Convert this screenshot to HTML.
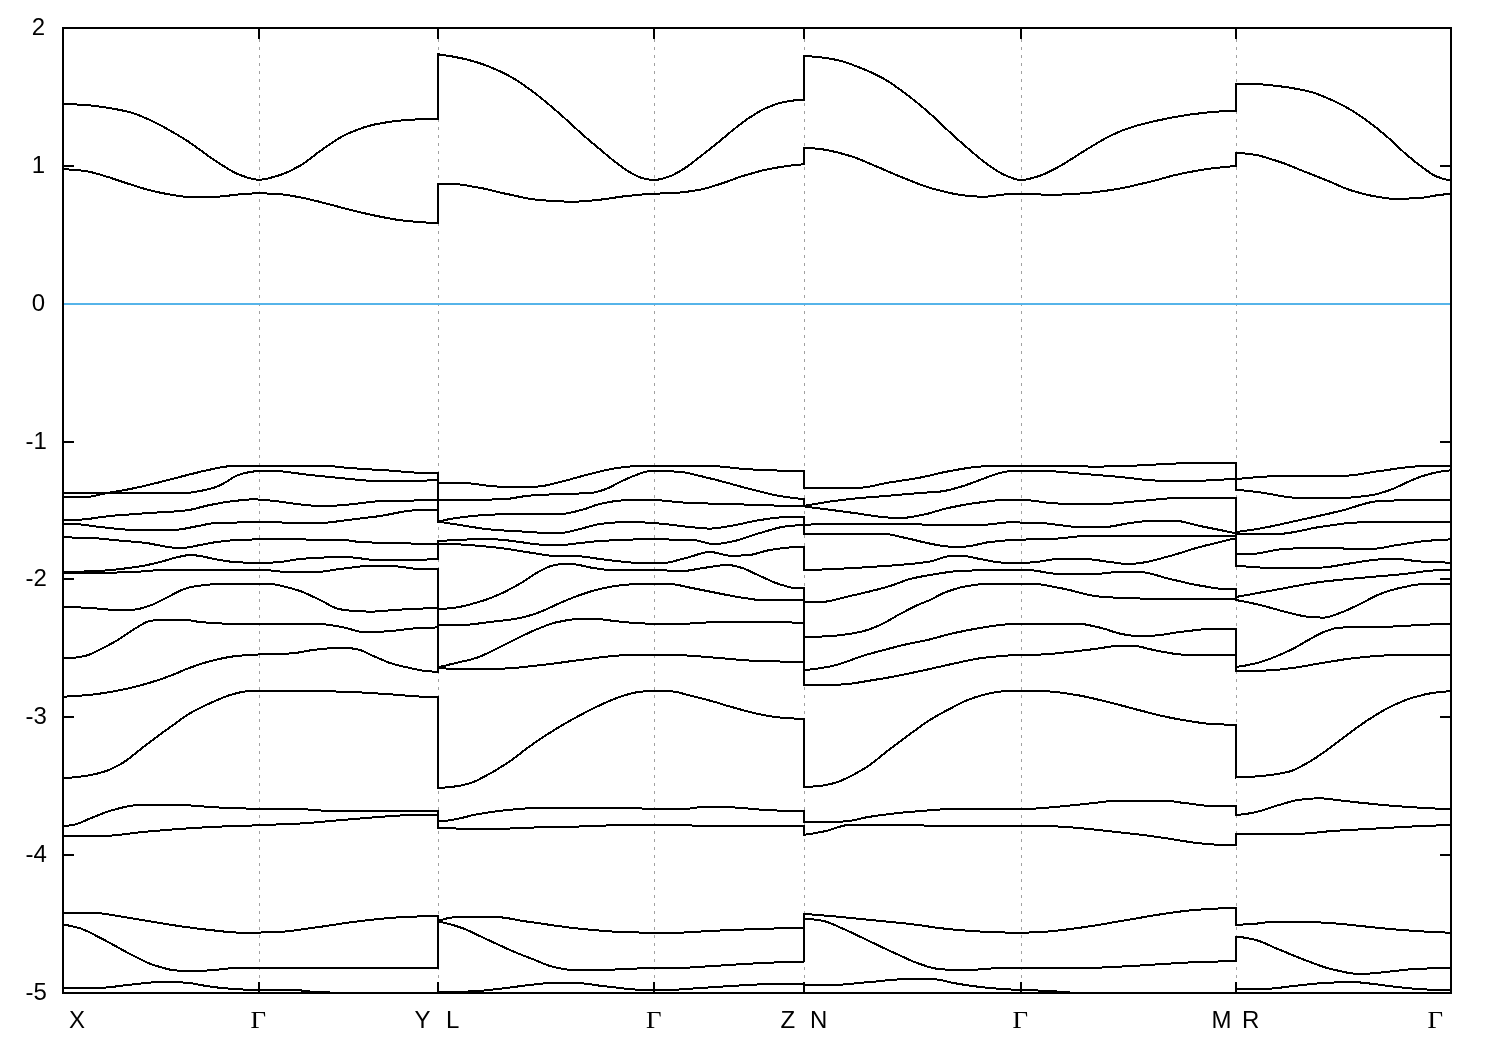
<!DOCTYPE html>
<html>
<head>
<meta charset="utf-8">
<title>Band structure</title>
<style>
html,body{margin:0;padding:0;background:#fff;}
body{width:1500px;height:1050px;overflow:hidden;}
svg{display:block;will-change:transform;}
text{font-family:"Liberation Sans",sans-serif;font-size:24px;fill:#000;}
text.s{font-family:"Liberation Serif",serif;font-size:24.5px;text-rendering:geometricPrecision;}
</style>
</head>
<body>
<svg width="1500" height="1050" viewBox="0 0 1500 1050">
<rect x="0" y="0" width="1500" height="1050" fill="#fff"/>
<defs><clipPath id="c"><rect x="62" y="27" width="1390" height="967"/></clipPath></defs>
<g stroke="#a0a0a0" stroke-width="1" stroke-dasharray="3 5" fill="none" shape-rendering="crispEdges">
<line x1="259.5" y1="31" x2="259.5" y2="992"/>
<line x1="438.5" y1="31" x2="438.5" y2="992"/>
<line x1="654.5" y1="31" x2="654.5" y2="992"/>
<line x1="804.5" y1="31" x2="804.5" y2="992"/>
<line x1="1021.5" y1="31" x2="1021.5" y2="992"/>
<line x1="1236.5" y1="31" x2="1236.5" y2="992"/>
</g>
<g fill="#000" shape-rendering="crispEdges">
<rect x="64" y="165" width="10" height="2"/>
<rect x="1440" y="165" width="10" height="2"/>
<rect x="64" y="303" width="10" height="2"/>
<rect x="1440" y="303" width="10" height="2"/>
<rect x="64" y="441" width="10" height="2"/>
<rect x="1440" y="441" width="10" height="2"/>
<rect x="64" y="578" width="10" height="2"/>
<rect x="1440" y="578" width="10" height="2"/>
<rect x="64" y="716" width="10" height="2"/>
<rect x="1440" y="716" width="10" height="2"/>
<rect x="64" y="854" width="10" height="2"/>
<rect x="1440" y="854" width="10" height="2"/>
<rect x="258" y="29" width="2" height="10"/>
<rect x="258" y="982" width="2" height="10"/>
<rect x="437" y="29" width="2" height="10"/>
<rect x="437" y="982" width="2" height="10"/>
<rect x="653" y="29" width="2" height="10"/>
<rect x="653" y="982" width="2" height="10"/>
<rect x="803" y="29" width="2" height="10"/>
<rect x="803" y="982" width="2" height="10"/>
<rect x="1020" y="29" width="2" height="10"/>
<rect x="1020" y="982" width="2" height="10"/>
<rect x="1235" y="29" width="2" height="10"/>
<rect x="1235" y="982" width="2" height="10"/>
</g>
<rect x="63" y="303" width="1388" height="2" fill="#56b4e9" shape-rendering="crispEdges"/>
<g clip-path="url(#c)" stroke="#000" stroke-width="2" fill="none" stroke-linejoin="miter" stroke-linecap="butt" shape-rendering="crispEdges">
<path d="M63.0 104.0L66.0 104.0L69.0 104.1L72.0 104.2L75.0 104.4L78.0 104.6L81.0 104.7L84.0 104.9L87.0 105.1L90.0 105.4L93.0 105.7L96.0 106.1L99.0 106.5L102.0 106.9L105.0 107.4L108.0 107.9L111.0 108.3L114.0 108.8L117.0 109.4L120.0 110.0L123.0 110.6L126.0 111.3L129.0 112.0L132.0 112.9L135.0 113.8L138.0 114.9L141.0 116.1L144.0 117.4L147.0 118.7L150.0 120.0L153.0 121.4L156.0 122.9L159.0 124.4L162.0 126.1L165.0 127.7L168.0 129.4L171.0 131.2L174.0 132.9L177.0 134.6L180.0 136.4L183.0 138.2L186.0 140.1L189.0 142.0L192.0 144.1L195.0 146.2L198.0 148.4L201.0 150.6L204.0 152.9L207.0 155.0L210.0 157.1L213.0 159.2L216.0 161.2L219.0 163.2L222.0 165.1L225.0 166.9L228.0 168.8L231.0 170.6L234.0 172.3L237.0 173.8L240.0 175.0L243.0 176.0L246.0 177.1L249.0 178.0L252.0 178.8L255.0 179.4L258.0 179.7L261.0 179.6L264.0 179.3L267.0 178.7L270.0 178.0L273.0 177.1L276.0 176.3L279.0 175.4L282.0 174.4L285.0 173.2L288.0 171.9L291.0 170.4L294.0 168.9L297.0 167.3L300.0 165.7L303.0 163.9L306.0 161.8L309.0 159.6L312.0 157.3L315.0 154.9L318.0 152.6L321.0 150.4L324.0 148.3L327.0 146.3L330.0 144.2L333.0 142.1L336.0 140.1L339.0 138.3L342.0 136.5L345.0 134.9L348.0 133.6L351.0 132.3L354.0 131.0L357.0 129.9L360.0 128.8L363.0 127.7L366.0 126.8L369.0 125.9L372.0 125.1L375.0 124.4L378.0 123.8L381.0 123.3L384.0 122.7L387.0 122.3L390.0 121.8L393.0 121.4L396.0 121.0L399.0 120.7L402.0 120.4L405.0 120.1L408.0 119.9L411.0 119.7L414.0 119.6L417.0 119.4L420.0 119.2L423.0 119.1L426.0 119.0L429.0 118.8L432.0 118.8L435.0 118.7L438.0 118.7L438.0 54.3L441.0 54.7L444.0 55.1L447.0 55.6L450.0 56.1L453.0 56.6L456.0 57.2L459.0 57.8L462.0 58.4L465.0 59.1L468.0 59.8L471.0 60.6L474.0 61.4L477.0 62.3L480.0 63.3L483.0 64.3L486.0 65.4L489.0 66.6L492.0 67.8L495.0 69.1L498.0 70.4L501.0 71.8L504.0 73.3L507.0 74.8L510.0 76.4L513.0 78.1L516.0 79.9L519.0 81.8L522.0 83.8L525.0 85.9L528.0 88.1L531.0 90.3L534.0 92.5L537.0 94.8L540.0 97.2L543.0 99.6L546.0 102.1L549.0 104.6L552.0 107.1L555.0 109.7L558.0 112.3L561.0 114.9L564.0 117.6L567.0 120.3L570.0 123.1L573.0 125.9L576.0 128.6L579.0 131.4L582.0 134.1L585.0 136.7L588.0 139.3L591.0 141.8L594.0 144.3L597.0 146.8L600.0 149.3L603.0 151.8L606.0 154.4L609.0 156.9L612.0 159.4L615.0 161.8L618.0 164.1L621.0 166.3L624.0 168.5L627.0 170.5L630.0 172.3L633.0 174.0L636.0 175.6L639.0 177.0L642.0 178.0L645.0 178.8L648.0 179.4L651.0 179.8L654.0 180.0L657.0 179.8L660.0 179.2L663.0 178.5L666.0 177.6L669.0 176.6L672.0 175.4L675.0 173.9L678.0 172.3L681.0 170.5L684.0 168.7L687.0 166.7L690.0 164.5L693.0 162.2L696.0 159.8L699.0 157.5L702.0 155.2L705.0 152.8L708.0 150.5L711.0 148.1L714.0 145.7L717.0 143.3L720.0 140.8L723.0 138.3L726.0 135.8L729.0 133.2L732.0 130.8L735.0 128.4L738.0 126.1L741.0 123.7L744.0 121.5L747.0 119.3L750.0 117.3L753.0 115.4L756.0 113.5L759.0 111.7L762.0 110.1L765.0 108.6L768.0 107.3L771.0 106.0L774.0 104.9L777.0 103.8L780.0 103.0L783.0 102.3L786.0 101.7L789.0 101.2L792.0 100.7L795.0 100.3L798.0 100.0L801.0 99.8L804.0 99.7L804.0 56.0L807.0 56.2L810.0 56.4L813.0 56.6L816.0 56.9L819.0 57.2L822.0 57.5L825.0 57.9L828.0 58.3L831.0 58.8L834.0 59.4L837.0 60.0L840.0 60.7L843.0 61.5L846.0 62.5L849.0 63.5L852.0 64.6L855.0 65.8L858.0 66.9L861.0 68.1L864.0 69.3L867.0 70.5L870.0 71.9L873.0 73.2L876.0 74.7L879.0 76.2L882.0 77.8L885.0 79.4L888.0 81.3L891.0 83.2L894.0 85.2L897.0 87.4L900.0 89.5L903.0 91.7L906.0 93.9L909.0 96.2L912.0 98.6L915.0 101.0L918.0 103.4L921.0 105.9L924.0 108.4L927.0 111.0L930.0 113.6L933.0 116.4L936.0 119.2L939.0 122.0L942.0 124.8L945.0 127.7L948.0 130.5L951.0 133.2L954.0 135.9L957.0 138.7L960.0 141.4L963.0 144.1L966.0 146.7L969.0 149.3L972.0 151.9L975.0 154.4L978.0 156.9L981.0 159.4L984.0 161.8L987.0 164.1L990.0 166.3L993.0 168.3L996.0 170.2L999.0 172.0L1002.0 173.7L1005.0 175.2L1008.0 176.4L1011.0 177.6L1014.0 178.7L1017.0 179.5L1020.0 180.0L1023.0 179.9L1026.0 179.5L1029.0 178.9L1032.0 178.1L1035.0 177.3L1038.0 176.4L1041.0 175.4L1044.0 174.2L1047.0 172.8L1050.0 171.3L1053.0 169.8L1056.0 168.2L1059.0 166.6L1062.0 164.9L1065.0 163.1L1068.0 161.2L1071.0 159.3L1074.0 157.4L1077.0 155.4L1080.0 153.5L1083.0 151.7L1086.0 149.9L1089.0 148.0L1092.0 146.2L1095.0 144.4L1098.0 142.6L1101.0 140.8L1104.0 139.1L1107.0 137.5L1110.0 136.0L1113.0 134.6L1116.0 133.2L1119.0 131.9L1122.0 130.6L1125.0 129.5L1128.0 128.4L1131.0 127.4L1134.0 126.5L1137.0 125.6L1140.0 124.7L1143.0 124.0L1146.0 123.2L1149.0 122.5L1152.0 121.8L1155.0 121.1L1158.0 120.4L1161.0 119.8L1164.0 119.2L1167.0 118.5L1170.0 117.9L1173.0 117.3L1176.0 116.8L1179.0 116.3L1182.0 115.8L1185.0 115.3L1188.0 114.9L1191.0 114.4L1194.0 114.0L1197.0 113.7L1200.0 113.3L1203.0 112.9L1206.0 112.6L1209.0 112.3L1212.0 112.1L1215.0 111.9L1218.0 111.6L1221.0 111.4L1224.0 111.2L1227.0 111.1L1230.0 110.9L1233.0 110.8L1236.0 110.7L1236.0 84.0L1239.0 84.0L1242.0 84.0L1245.0 84.0L1247.9 84.0L1250.9 84.0L1253.9 84.0L1256.9 84.1L1259.9 84.2L1262.9 84.5L1265.9 84.8L1268.8 85.1L1271.8 85.4L1274.8 85.8L1277.8 86.1L1280.8 86.4L1283.8 86.8L1286.8 87.2L1289.8 87.7L1292.7 88.2L1295.7 88.7L1298.7 89.2L1301.7 89.8L1304.7 90.5L1307.7 91.1L1310.7 91.9L1313.6 92.7L1316.6 93.7L1319.6 94.9L1322.6 96.1L1325.6 97.4L1328.6 98.7L1331.6 100.0L1334.5 101.3L1337.5 102.8L1340.5 104.2L1343.5 105.8L1346.5 107.4L1349.5 109.1L1352.5 110.9L1355.4 112.8L1358.4 114.8L1361.4 116.8L1364.4 118.9L1367.4 121.0L1370.4 123.2L1373.4 125.5L1376.3 127.8L1379.3 130.3L1382.3 132.7L1385.3 135.3L1388.3 137.8L1391.3 140.5L1394.3 143.3L1397.2 146.1L1400.2 148.9L1403.2 151.7L1406.2 154.3L1409.2 156.9L1412.2 159.3L1415.2 161.8L1418.2 164.1L1421.1 166.4L1424.1 168.5L1427.1 170.7L1430.1 172.9L1433.1 174.8L1436.1 176.3L1439.1 177.4L1442.0 178.4L1445.0 179.3L1448.0 179.9L1451.0 180.3"/>
<path d="M63.0 169.3L66.0 169.3L69.0 169.5L72.0 169.7L75.0 169.9L78.0 170.2L81.0 170.5L84.0 170.9L87.0 171.3L90.0 171.8L93.0 172.6L96.0 173.4L99.0 174.3L102.0 175.2L105.0 176.1L108.0 177.0L111.0 177.9L114.0 179.0L117.0 180.0L120.0 181.0L123.0 182.0L126.0 183.0L129.0 184.0L132.0 184.9L135.0 185.9L138.0 186.9L141.0 187.8L144.0 188.7L147.0 189.5L150.0 190.3L153.0 191.0L156.0 191.7L159.0 192.4L162.0 193.0L165.0 193.6L168.0 194.2L171.0 194.7L174.0 195.2L177.0 195.6L180.0 196.1L183.0 196.5L186.0 196.8L189.0 197.0L192.0 197.0L195.0 197.0L198.0 197.0L201.0 196.9L204.0 196.9L207.0 196.9L210.0 196.8L213.0 196.8L216.0 196.7L219.0 196.6L222.0 196.4L225.0 196.1L228.0 195.7L231.0 195.3L234.0 194.9L237.0 194.6L240.0 194.3L243.0 194.1L246.0 193.9L249.0 193.7L252.0 193.5L255.0 193.4L258.0 193.3L261.0 193.3L264.0 193.4L267.0 193.5L270.0 193.6L273.0 193.8L276.0 193.9L279.0 194.1L282.0 194.4L285.0 194.8L288.0 195.2L291.0 195.7L294.0 196.2L297.0 196.8L300.0 197.3L303.0 197.9L306.0 198.5L309.0 199.2L312.0 199.9L315.0 200.7L318.0 201.4L321.0 202.2L324.0 202.9L327.0 203.7L330.0 204.5L333.0 205.3L336.0 206.1L339.0 206.9L342.0 207.7L345.0 208.5L348.0 209.2L351.0 210.0L354.0 210.7L357.0 211.5L360.0 212.2L363.0 212.9L366.0 213.6L369.0 214.3L372.0 215.0L375.0 215.6L378.0 216.2L381.0 216.8L384.0 217.4L387.0 218.0L390.0 218.5L393.0 219.1L396.0 219.6L399.0 220.0L402.0 220.4L405.0 220.8L408.0 221.1L411.0 221.4L414.0 221.6L417.0 221.9L420.0 222.1L423.0 222.3L426.0 222.5L429.0 222.7L432.0 222.8L435.0 222.9L438.0 223.0L438.0 183.7L441.0 183.7L444.0 183.8L447.0 183.8L450.0 183.9L453.0 184.0L456.0 184.2L459.0 184.4L462.0 184.8L465.0 185.2L468.0 185.7L471.0 186.3L474.0 186.8L477.0 187.3L480.0 187.8L483.0 188.4L486.0 189.1L489.0 189.8L492.0 190.5L495.0 191.2L498.0 192.0L501.0 192.7L504.0 193.4L507.0 194.0L510.0 194.6L513.0 195.3L516.0 196.0L519.0 196.6L522.0 197.3L525.0 197.9L528.0 198.5L531.0 199.0L534.0 199.4L537.0 199.7L540.0 200.0L543.0 200.2L546.0 200.5L549.0 200.7L552.0 200.9L555.0 201.1L558.0 201.3L561.0 201.4L564.0 201.5L567.0 201.6L570.0 201.7L573.0 201.7L576.0 201.7L579.0 201.5L582.0 201.4L585.0 201.1L588.0 200.9L591.0 200.6L594.0 200.3L597.0 200.0L600.0 199.7L603.0 199.3L606.0 198.9L609.0 198.5L612.0 198.0L615.0 197.6L618.0 197.1L621.0 196.7L624.0 196.3L627.0 196.0L630.0 195.7L633.0 195.4L636.0 195.1L639.0 194.8L642.0 194.5L645.0 194.3L648.0 194.1L651.0 193.9L654.0 193.7L657.0 193.6L660.0 193.5L663.0 193.4L666.0 193.3L669.0 193.2L672.0 193.1L675.0 192.9L678.0 192.7L681.0 192.4L684.0 192.1L687.0 191.7L690.0 191.3L693.0 190.8L696.0 190.4L699.0 189.9L702.0 189.3L705.0 188.6L708.0 187.8L711.0 186.9L714.0 185.9L717.0 185.0L720.0 184.0L723.0 183.0L726.0 182.0L729.0 180.9L732.0 179.8L735.0 178.7L738.0 177.6L741.0 176.6L744.0 175.7L747.0 174.8L750.0 173.9L753.0 173.1L756.0 172.2L759.0 171.4L762.0 170.6L765.0 169.9L768.0 169.3L771.0 168.7L774.0 168.1L777.0 167.6L780.0 167.1L783.0 166.7L786.0 166.2L789.0 165.8L792.0 165.4L795.0 165.1L798.0 164.8L801.0 164.5L804.0 164.3L804.0 147.7L807.0 147.8L810.0 148.0L813.0 148.3L816.0 148.6L819.0 148.9L822.0 149.3L825.0 149.7L828.0 150.3L831.0 150.9L834.0 151.6L837.0 152.3L840.0 153.1L843.0 154.0L846.0 154.8L849.0 155.7L852.0 156.6L855.0 157.6L858.0 158.7L861.0 159.9L864.0 161.2L867.0 162.4L870.0 163.7L873.0 165.0L876.0 166.3L879.0 167.5L882.0 168.8L885.0 170.1L888.0 171.4L891.0 172.7L894.0 174.0L897.0 175.3L900.0 176.5L903.0 177.7L906.0 178.9L909.0 180.1L912.0 181.3L915.0 182.5L918.0 183.7L921.0 184.8L924.0 185.9L927.0 186.9L930.0 187.9L933.0 188.7L936.0 189.5L939.0 190.3L942.0 191.0L945.0 191.8L948.0 192.5L951.0 193.2L954.0 193.8L957.0 194.3L960.0 194.8L963.0 195.3L966.0 195.6L969.0 195.9L972.0 196.1L975.0 196.4L978.0 196.6L981.0 196.7L984.0 196.7L987.0 196.6L990.0 196.3L993.0 195.9L996.0 195.5L999.0 195.1L1002.0 194.8L1005.0 194.4L1008.0 194.2L1011.0 194.1L1014.0 193.9L1017.0 193.8L1020.0 193.7L1023.0 193.7L1026.0 193.8L1029.0 193.9L1032.0 194.0L1035.0 194.2L1038.0 194.3L1041.0 194.5L1044.0 194.6L1047.0 194.7L1050.0 194.7L1053.0 194.7L1056.0 194.6L1059.0 194.6L1062.0 194.5L1065.0 194.3L1068.0 194.2L1071.0 194.0L1074.0 193.9L1077.0 193.7L1080.0 193.5L1083.0 193.3L1086.0 193.1L1089.0 192.8L1092.0 192.5L1095.0 192.2L1098.0 191.8L1101.0 191.4L1104.0 191.0L1107.0 190.6L1110.0 190.1L1113.0 189.6L1116.0 189.2L1119.0 188.7L1122.0 188.1L1125.0 187.5L1128.0 186.9L1131.0 186.2L1134.0 185.5L1137.0 184.8L1140.0 184.1L1143.0 183.4L1146.0 182.7L1149.0 181.9L1152.0 181.2L1155.0 180.5L1158.0 179.7L1161.0 178.9L1164.0 178.0L1167.0 177.2L1170.0 176.4L1173.0 175.6L1176.0 174.9L1179.0 174.2L1182.0 173.5L1185.0 172.9L1188.0 172.3L1191.0 171.8L1194.0 171.2L1197.0 170.7L1200.0 170.2L1203.0 169.7L1206.0 169.2L1209.0 168.8L1212.0 168.4L1215.0 168.1L1218.0 167.7L1221.0 167.4L1224.0 167.0L1227.0 166.8L1230.0 166.5L1233.0 166.2L1236.0 166.0L1236.0 153.0L1239.0 153.1L1242.0 153.3L1245.0 153.5L1247.9 153.8L1250.9 154.1L1253.9 154.6L1256.9 155.1L1259.9 155.8L1262.9 156.6L1265.9 157.5L1268.8 158.4L1271.8 159.4L1274.8 160.3L1277.8 161.3L1280.8 162.2L1283.8 163.3L1286.8 164.5L1289.8 165.6L1292.7 166.8L1295.7 168.1L1298.7 169.3L1301.7 170.5L1304.7 171.7L1307.7 172.8L1310.7 174.0L1313.6 175.2L1316.6 176.3L1319.6 177.5L1322.6 178.7L1325.6 179.9L1328.6 181.1L1331.6 182.3L1334.5 183.6L1337.5 185.0L1340.5 186.3L1343.5 187.6L1346.5 188.8L1349.5 189.8L1352.5 190.8L1355.4 191.7L1358.4 192.5L1361.4 193.3L1364.4 194.1L1367.4 194.8L1370.4 195.5L1373.4 196.1L1376.3 196.6L1379.3 197.1L1382.3 197.6L1385.3 198.1L1388.3 198.4L1391.3 198.7L1394.3 198.7L1397.2 198.7L1400.2 198.7L1403.2 198.6L1406.2 198.6L1409.2 198.5L1412.2 198.4L1415.2 198.4L1418.2 198.2L1421.1 198.0L1424.1 197.5L1427.1 197.0L1430.1 196.5L1433.1 195.9L1436.1 195.4L1439.1 195.0L1442.0 194.7L1445.0 194.3L1448.0 194.0L1451.0 193.7"/>
<path d="M63.0 497.0L66.0 497.0L69.0 497.0L72.0 497.0L75.0 496.9L78.0 496.9L81.0 496.8L84.0 496.8L87.0 496.7L90.0 496.6L93.0 496.3L96.0 495.6L99.0 494.8L102.0 494.0L105.0 493.4L108.0 492.8L111.0 492.3L114.0 491.8L117.0 491.3L120.0 490.8L123.0 490.3L126.0 489.8L129.0 489.2L132.0 488.6L135.0 488.0L138.0 487.3L141.0 486.7L144.0 486.0L147.0 485.3L150.0 484.6L153.0 483.8L156.0 483.1L159.0 482.4L162.0 481.6L165.0 480.8L168.0 480.0L171.0 479.2L174.0 478.5L177.0 477.7L180.0 476.9L183.0 476.1L186.0 475.4L189.0 474.6L192.0 473.9L195.0 473.1L198.0 472.4L201.0 471.6L204.0 470.9L207.0 470.2L210.0 469.6L213.0 469.0L216.0 468.3L219.0 467.7L222.0 467.2L225.0 466.7L228.0 466.3L231.0 466.0L234.0 465.8L237.0 465.8L240.0 465.7L243.0 465.7L246.0 465.6L249.0 465.6L252.0 465.6L255.0 465.6L258.0 465.6L261.0 465.6L264.0 465.6L267.0 465.6L270.0 465.6L273.0 465.6L276.0 465.6L279.0 465.6L282.0 465.6L285.0 465.6L288.0 465.6L291.0 465.6L294.0 465.6L297.0 465.6L300.0 465.6L303.0 465.6L306.0 465.6L309.0 465.6L312.0 465.6L315.0 465.6L318.0 465.6L321.0 465.6L324.0 465.7L327.0 465.8L330.0 466.1L333.0 466.3L336.0 466.6L339.0 467.0L342.0 467.3L345.0 467.6L348.0 467.8L351.0 468.1L354.0 468.3L357.0 468.5L360.0 468.7L363.0 468.9L366.0 469.1L369.0 469.3L372.0 469.5L375.0 469.6L378.0 469.8L381.0 470.0L384.0 470.2L387.0 470.4L390.0 470.6L393.0 470.8L396.0 471.1L399.0 471.3L402.0 471.6L405.0 471.8L408.0 472.1L411.0 472.3L414.0 472.5L417.0 472.6L420.0 472.6L423.0 472.6L426.0 472.6L429.0 472.6L432.0 472.6L435.0 472.6L438.0 472.6L438.0 482.6L441.0 482.6L444.0 482.6L447.0 482.7L450.0 482.7L453.0 482.8L456.0 482.8L459.0 482.9L462.0 482.9L465.0 483.0L468.0 483.2L471.0 483.5L474.0 483.8L477.0 484.2L480.0 484.6L483.0 485.1L486.0 485.5L489.0 485.9L492.0 486.2L495.0 486.4L498.0 486.6L501.0 486.6L504.0 486.6L507.0 486.6L510.0 486.6L513.0 486.6L516.0 486.6L519.0 486.6L522.0 486.6L525.0 486.6L528.0 486.6L531.0 486.6L534.0 486.6L537.0 486.6L540.0 486.4L543.0 486.0L546.0 485.4L549.0 484.7L552.0 484.0L555.0 483.2L558.0 482.5L561.0 481.8L564.0 481.1L567.0 480.3L570.0 479.5L573.0 478.6L576.0 477.8L579.0 476.9L582.0 476.1L585.0 475.3L588.0 474.5L591.0 473.8L594.0 473.0L597.0 472.3L600.0 471.6L603.0 470.8L606.0 470.1L609.0 469.5L612.0 468.9L615.0 468.3L618.0 467.9L621.0 467.5L624.0 467.1L627.0 466.8L630.0 466.5L633.0 466.2L636.0 466.0L639.0 465.8L642.0 465.8L645.0 465.7L648.0 465.6L651.0 465.6L654.0 465.6L657.0 465.6L660.0 465.6L663.0 465.6L666.0 465.6L669.0 465.6L672.0 465.6L675.0 465.7L678.0 465.7L681.0 465.7L684.0 465.7L687.0 465.7L690.0 465.8L693.0 465.8L696.0 465.8L699.0 465.9L702.0 465.9L705.0 465.9L708.0 466.0L711.0 466.0L714.0 466.1L717.0 466.3L720.0 466.5L723.0 466.8L726.0 467.1L729.0 467.4L732.0 467.8L735.0 468.1L738.0 468.4L741.0 468.7L744.0 469.0L747.0 469.2L750.0 469.4L753.0 469.5L756.0 469.7L759.0 469.8L762.0 469.9L765.0 470.1L768.0 470.2L771.0 470.3L774.0 470.4L777.0 470.5L780.0 470.6L783.0 470.7L786.0 470.8L789.0 470.8L792.0 470.9L795.0 470.9L798.0 471.0L801.0 471.0L804.0 471.0L804.0 488.0L807.0 488.0L810.0 488.0L813.0 488.0L816.0 488.0L819.0 488.0L822.0 488.0L825.0 488.0L828.0 488.0L831.0 488.0L834.0 488.0L837.0 488.0L840.0 488.0L843.0 488.0L846.0 488.0L849.0 488.0L852.0 488.0L855.0 488.0L858.0 488.0L861.0 487.8L864.0 487.4L867.0 487.0L870.0 486.5L873.0 485.9L876.0 485.3L879.0 484.6L882.0 483.9L885.0 483.3L888.0 482.7L891.0 482.2L894.0 481.8L897.0 481.3L900.0 480.8L903.0 480.4L906.0 479.9L909.0 479.5L912.0 479.0L915.0 478.5L918.0 478.0L921.0 477.4L924.0 476.8L927.0 476.1L930.0 475.5L933.0 474.7L936.0 474.0L939.0 473.3L942.0 472.6L945.0 472.0L948.0 471.4L951.0 470.8L954.0 470.3L957.0 469.8L960.0 469.2L963.0 468.7L966.0 468.3L969.0 467.8L972.0 467.4L975.0 467.1L978.0 466.8L981.0 466.5L984.0 466.3L987.0 466.1L990.0 465.9L993.0 465.8L996.0 465.7L999.0 465.6L1002.0 465.6L1005.0 465.6L1008.0 465.6L1011.0 465.6L1014.0 465.6L1017.0 465.6L1020.0 465.6L1023.0 465.6L1026.0 465.6L1029.0 465.6L1032.0 465.6L1035.0 465.6L1038.0 465.6L1041.0 465.6L1044.0 465.6L1047.0 465.6L1050.0 465.6L1053.0 465.6L1056.0 465.6L1059.0 465.6L1062.0 465.6L1065.0 465.6L1068.0 465.6L1071.0 465.6L1074.0 465.6L1077.0 465.6L1080.0 465.8L1083.0 466.1L1086.0 466.4L1089.0 466.6L1092.0 466.6L1095.0 466.6L1098.0 466.6L1101.0 466.5L1104.0 466.5L1107.0 466.4L1110.0 466.3L1113.0 466.3L1116.0 466.2L1119.0 466.1L1122.0 466.0L1125.0 465.9L1128.0 465.8L1131.0 465.7L1134.0 465.6L1137.0 465.5L1140.0 465.4L1143.0 465.3L1146.0 465.1L1149.0 465.0L1152.0 464.8L1155.0 464.6L1158.0 464.4L1161.0 464.3L1164.0 464.1L1167.0 463.9L1170.0 463.7L1173.0 463.6L1176.0 463.5L1179.0 463.4L1182.0 463.4L1185.0 463.3L1188.0 463.3L1191.0 463.2L1194.0 463.2L1197.0 463.2L1200.0 463.1L1203.0 463.1L1206.0 463.1L1209.0 463.0L1212.0 463.0L1215.0 463.0L1218.0 463.0L1221.0 463.0L1224.0 463.0L1227.0 463.0L1230.0 463.0L1233.0 463.0L1236.0 463.0L1236.0 479.0L1239.0 478.7L1242.0 478.5L1245.0 478.2L1247.9 477.9L1250.9 477.7L1253.9 477.4L1256.9 477.2L1259.9 477.0L1262.9 476.8L1265.9 476.6L1268.8 476.4L1271.8 476.3L1274.8 476.2L1277.8 476.1L1280.8 476.0L1283.8 476.0L1286.8 476.0L1289.8 476.0L1292.7 476.0L1295.7 476.0L1298.7 476.0L1301.7 476.0L1304.7 476.0L1307.7 476.0L1310.7 476.0L1313.6 476.0L1316.6 476.0L1319.6 476.0L1322.6 476.0L1325.6 476.0L1328.6 476.0L1331.6 476.0L1334.5 476.0L1337.5 476.0L1340.5 476.0L1343.5 475.9L1346.5 475.8L1349.5 475.5L1352.5 475.2L1355.4 474.8L1358.4 474.4L1361.4 473.9L1364.4 473.4L1367.4 472.9L1370.4 472.4L1373.4 472.0L1376.3 471.5L1379.3 471.1L1382.3 470.7L1385.3 470.3L1388.3 469.8L1391.3 469.4L1394.3 469.0L1397.2 468.5L1400.2 468.1L1403.2 467.7L1406.2 467.4L1409.2 467.1L1412.2 466.8L1415.2 466.5L1418.2 466.2L1421.1 466.0L1424.1 465.8L1427.1 465.6L1430.1 465.6L1433.1 465.6L1436.1 465.6L1439.1 465.6L1442.0 465.6L1445.0 465.6L1448.0 465.6L1451.0 465.6"/>
<path d="M63.0 493.0L66.0 493.0L69.0 493.1L72.0 493.1L75.0 493.1L78.0 493.2L81.0 493.2L84.0 493.2L87.0 493.2L90.0 493.3L93.0 493.3L96.0 493.3L99.0 493.3L102.0 493.3L105.0 493.4L108.0 493.4L111.0 493.4L114.0 493.4L117.0 493.4L120.0 493.4L123.0 493.4L126.0 493.4L129.0 493.4L132.0 493.4L135.0 493.4L138.0 493.4L141.0 493.4L144.0 493.4L147.0 493.4L150.0 493.4L153.0 493.3L156.0 493.3L159.0 493.3L162.0 493.3L165.0 493.3L168.0 493.2L171.0 493.2L174.0 493.2L177.0 493.1L180.0 493.1L183.0 493.0L186.0 493.0L189.0 492.8L192.0 492.4L195.0 491.9L198.0 491.4L201.0 490.8L204.0 490.2L207.0 489.6L210.0 488.8L213.0 488.0L216.0 487.0L219.0 485.8L222.0 484.2L225.0 482.6L228.0 480.8L231.0 478.8L234.0 477.0L237.0 475.6L240.0 474.5L243.0 473.6L246.0 472.8L249.0 472.2L252.0 471.7L255.0 471.3L258.0 471.0L261.0 471.0L264.0 471.0L267.0 471.0L270.0 471.0L273.0 471.0L276.0 471.0L279.0 471.2L282.0 471.4L285.0 471.8L288.0 472.2L291.0 472.5L294.0 472.9L297.0 473.3L300.0 473.7L303.0 474.1L306.0 474.5L309.0 474.9L312.0 475.2L315.0 475.5L318.0 475.8L321.0 476.1L324.0 476.4L327.0 476.7L330.0 477.0L333.0 477.3L336.0 477.6L339.0 477.9L342.0 478.2L345.0 478.5L348.0 478.8L351.0 479.1L354.0 479.4L357.0 479.7L360.0 480.0L363.0 480.3L366.0 480.5L369.0 480.8L372.0 480.9L375.0 481.0L378.0 481.0L381.0 481.0L384.0 481.0L387.0 481.0L390.0 481.0L393.0 481.0L396.0 481.0L399.0 481.0L402.0 481.0L405.0 481.0L408.0 481.0L411.0 481.0L414.0 481.0L417.0 481.0L420.0 480.9L423.0 480.8L426.0 480.6L429.0 480.4L432.0 480.1L435.0 479.9L438.0 479.6L438.0 499.6L441.0 499.6L444.0 499.6L447.0 499.6L450.0 499.6L453.0 499.6L456.0 499.6L459.0 499.6L462.0 499.6L465.0 499.6L468.0 499.6L471.0 499.5L474.0 499.5L477.0 499.5L480.0 499.5L483.0 499.5L486.0 499.5L489.0 499.5L492.0 499.5L495.0 499.4L498.0 499.4L501.0 499.4L504.0 499.2L507.0 498.9L510.0 498.6L513.0 498.1L516.0 497.6L519.0 497.1L522.0 496.6L525.0 496.1L528.0 495.8L531.0 495.5L534.0 495.3L537.0 495.1L540.0 494.9L543.0 494.8L546.0 494.6L549.0 494.5L552.0 494.3L555.0 494.2L558.0 494.1L561.0 494.0L564.0 493.9L567.0 493.8L570.0 493.7L573.0 493.6L576.0 493.6L579.0 493.5L582.0 493.4L585.0 493.3L588.0 493.1L591.0 492.9L594.0 492.5L597.0 491.8L600.0 491.0L603.0 490.0L606.0 489.0L609.0 487.8L612.0 486.3L615.0 484.6L618.0 483.0L621.0 481.5L624.0 480.2L627.0 478.8L630.0 477.4L633.0 476.2L636.0 475.0L639.0 473.9L642.0 472.9L645.0 471.9L648.0 471.2L651.0 471.0L654.0 471.0L657.0 471.1L660.0 471.1L663.0 471.2L666.0 471.3L669.0 471.3L672.0 471.4L675.0 471.6L678.0 471.7L681.0 472.0L684.0 472.4L687.0 472.9L690.0 473.5L693.0 474.2L696.0 474.9L699.0 475.7L702.0 476.4L705.0 477.2L708.0 477.9L711.0 478.6L714.0 479.3L717.0 480.1L720.0 480.9L723.0 481.7L726.0 482.5L729.0 483.3L732.0 484.2L735.0 485.0L738.0 485.8L741.0 486.7L744.0 487.5L747.0 488.2L750.0 489.0L753.0 489.8L756.0 490.5L759.0 491.3L762.0 492.1L765.0 492.8L768.0 493.6L771.0 494.2L774.0 494.9L777.0 495.5L780.0 496.0L783.0 496.5L786.0 496.9L789.0 497.4L792.0 497.8L795.0 498.1L798.0 498.5L801.0 498.7L804.0 499.0L804.0 506.0L807.0 505.4L810.0 504.9L813.0 504.4L816.0 503.8L819.0 503.3L822.0 502.8L825.0 502.4L828.0 501.9L831.0 501.4L834.0 501.0L837.0 500.6L840.0 500.2L843.0 499.8L846.0 499.5L849.0 499.1L852.0 498.8L855.0 498.5L858.0 498.2L861.0 497.9L864.0 497.7L867.0 497.4L870.0 497.2L873.0 497.0L876.0 496.7L879.0 496.5L882.0 496.3L885.0 496.0L888.0 495.8L891.0 495.5L894.0 495.3L897.0 495.0L900.0 494.7L903.0 494.4L906.0 494.2L909.0 493.9L912.0 493.7L915.0 493.4L918.0 493.2L921.0 492.9L924.0 492.7L927.0 492.5L930.0 492.4L933.0 492.2L936.0 492.0L939.0 491.7L942.0 491.3L945.0 490.8L948.0 490.2L951.0 489.5L954.0 488.7L957.0 487.8L960.0 487.0L963.0 486.1L966.0 485.1L969.0 484.0L972.0 482.9L975.0 481.8L978.0 480.7L981.0 479.6L984.0 478.5L987.0 477.3L990.0 476.2L993.0 475.1L996.0 474.1L999.0 473.2L1002.0 472.5L1005.0 471.9L1008.0 471.3L1011.0 471.0L1014.0 471.0L1017.0 471.0L1020.0 471.0L1023.0 471.0L1026.0 471.0L1029.0 471.0L1032.0 471.0L1035.0 471.0L1038.0 471.0L1041.0 471.0L1044.0 471.0L1047.0 471.0L1050.0 471.1L1053.0 471.3L1056.0 471.5L1059.0 471.7L1062.0 471.9L1065.0 472.2L1068.0 472.5L1071.0 472.8L1074.0 473.1L1077.0 473.4L1080.0 473.6L1083.0 473.8L1086.0 474.1L1089.0 474.3L1092.0 474.6L1095.0 474.8L1098.0 475.1L1101.0 475.3L1104.0 475.6L1107.0 475.9L1110.0 476.1L1113.0 476.4L1116.0 476.6L1119.0 476.9L1122.0 477.2L1125.0 477.5L1128.0 477.8L1131.0 478.2L1134.0 478.5L1137.0 478.9L1140.0 479.2L1143.0 479.6L1146.0 479.9L1149.0 480.1L1152.0 480.3L1155.0 480.5L1158.0 480.6L1161.0 480.6L1164.0 480.6L1167.0 480.6L1170.0 480.6L1173.0 480.6L1176.0 480.6L1179.0 480.6L1182.0 480.6L1185.0 480.6L1188.0 480.6L1191.0 480.6L1194.0 480.6L1197.0 480.6L1200.0 480.6L1203.0 480.6L1206.0 480.5L1209.0 480.4L1212.0 480.3L1215.0 480.1L1218.0 479.9L1221.0 479.7L1224.0 479.5L1227.0 479.2L1230.0 478.9L1233.0 478.7L1236.0 478.4L1236.0 489.6L1239.0 489.9L1242.0 490.3L1245.0 490.6L1247.9 490.9L1250.9 491.3L1253.9 491.6L1256.9 492.0L1259.9 492.4L1262.9 492.8L1265.9 493.3L1268.8 493.8L1271.8 494.3L1274.8 494.9L1277.8 495.4L1280.8 496.0L1283.8 496.5L1286.8 496.9L1289.8 497.3L1292.7 497.6L1295.7 497.9L1298.7 498.0L1301.7 498.0L1304.7 498.0L1307.7 498.0L1310.7 498.0L1313.6 498.0L1316.6 498.0L1319.6 498.0L1322.6 498.0L1325.6 498.0L1328.6 498.0L1331.6 498.0L1334.5 498.0L1337.5 498.0L1340.5 498.0L1343.5 498.0L1346.5 497.8L1349.5 497.7L1352.5 497.4L1355.4 497.2L1358.4 496.9L1361.4 496.5L1364.4 496.1L1367.4 495.8L1370.4 495.3L1373.4 494.8L1376.3 494.2L1379.3 493.4L1382.3 492.5L1385.3 491.6L1388.3 490.6L1391.3 489.5L1394.3 488.4L1397.2 487.0L1400.2 485.6L1403.2 484.1L1406.2 482.7L1409.2 481.3L1412.2 480.1L1415.2 478.8L1418.2 477.6L1421.1 476.5L1424.1 475.6L1427.1 474.7L1430.1 473.9L1433.1 473.1L1436.1 472.4L1439.1 471.8L1442.0 471.3L1445.0 470.9L1448.0 470.6L1451.0 470.4"/>
<path d="M63.0 520.0L66.0 520.0L69.0 519.9L72.0 519.9L75.0 519.8L78.0 519.7L81.0 519.6L84.0 519.4L87.0 519.1L90.0 518.7L93.0 518.3L96.0 517.9L99.0 517.4L102.0 517.0L105.0 516.6L108.0 516.2L111.0 515.9L114.0 515.6L117.0 515.4L120.0 515.1L123.0 514.9L126.0 514.7L129.0 514.5L132.0 514.3L135.0 514.1L138.0 513.8L141.0 513.6L144.0 513.4L147.0 513.2L150.0 513.0L153.0 512.8L156.0 512.6L159.0 512.4L162.0 512.2L165.0 512.1L168.0 511.9L171.0 511.7L174.0 511.5L177.0 511.3L180.0 511.0L183.0 510.7L186.0 510.4L189.0 510.0L192.0 509.4L195.0 508.7L198.0 507.9L201.0 507.1L204.0 506.4L207.0 505.6L210.0 505.0L213.0 504.4L216.0 503.8L219.0 503.3L222.0 502.7L225.0 502.2L228.0 501.8L231.0 501.4L234.0 501.0L237.0 500.7L240.0 500.3L243.0 500.0L246.0 499.8L249.0 499.5L252.0 499.4L255.0 499.4L258.0 499.5L261.0 499.7L264.0 499.9L267.0 500.2L270.0 500.5L273.0 500.8L276.0 501.1L279.0 501.5L282.0 501.9L285.0 502.3L288.0 502.8L291.0 503.2L294.0 503.7L297.0 504.1L300.0 504.4L303.0 504.7L306.0 505.0L309.0 505.4L312.0 505.6L315.0 505.8L318.0 506.0L321.0 506.0L324.0 506.0L327.0 505.9L330.0 505.8L333.0 505.7L336.0 505.6L339.0 505.4L342.0 505.3L345.0 505.0L348.0 504.6L351.0 504.3L354.0 504.0L357.0 503.6L360.0 503.3L363.0 502.9L366.0 502.5L369.0 502.2L372.0 501.8L375.0 501.5L378.0 501.2L381.0 501.0L384.0 500.8L387.0 500.7L390.0 500.6L393.0 500.6L396.0 500.6L399.0 500.5L402.0 500.5L405.0 500.5L408.0 500.5L411.0 500.5L414.0 500.5L417.0 500.4L420.0 500.4L423.0 500.4L426.0 500.4L429.0 500.4L432.0 500.4L435.0 500.4L438.0 500.4L438.0 521.6L441.0 520.9L444.0 520.2L447.0 519.6L450.0 519.0L453.0 518.5L456.0 518.0L459.0 517.6L462.0 517.2L465.0 516.8L468.0 516.5L471.0 516.2L474.0 515.9L477.0 515.6L480.0 515.4L483.0 515.2L486.0 515.0L489.0 514.8L492.0 514.6L495.0 514.5L498.0 514.3L501.0 514.2L504.0 514.1L507.0 514.0L510.0 514.0L513.0 514.0L516.0 514.0L519.0 514.0L522.0 514.0L525.0 514.0L528.0 514.0L531.0 514.0L534.0 514.0L537.0 514.0L540.0 514.0L543.0 514.0L546.0 514.0L549.0 514.0L552.0 514.0L555.0 514.0L558.0 514.0L561.0 514.0L564.0 513.8L567.0 513.4L570.0 512.8L573.0 512.1L576.0 511.4L579.0 510.6L582.0 509.9L585.0 509.0L588.0 507.9L591.0 506.8L594.0 505.7L597.0 504.8L600.0 504.0L603.0 503.3L606.0 502.7L609.0 502.1L612.0 501.6L615.0 501.1L618.0 500.8L621.0 500.5L624.0 500.3L627.0 500.1L630.0 499.9L633.0 499.8L636.0 499.7L639.0 499.6L642.0 499.6L645.0 499.7L648.0 499.8L651.0 499.9L654.0 500.0L657.0 500.2L660.0 500.4L663.0 500.6L666.0 500.9L669.0 501.2L672.0 501.5L675.0 501.8L678.0 502.1L681.0 502.4L684.0 502.6L687.0 502.9L690.0 503.0L693.0 503.1L696.0 503.2L699.0 503.3L702.0 503.4L705.0 503.4L708.0 503.5L711.0 503.6L714.0 503.6L717.0 503.7L720.0 503.8L723.0 503.8L726.0 503.9L729.0 504.0L732.0 504.1L735.0 504.2L738.0 504.3L741.0 504.4L744.0 504.5L747.0 504.6L750.0 504.7L753.0 504.8L756.0 505.0L759.0 505.1L762.0 505.2L765.0 505.3L768.0 505.4L771.0 505.4L774.0 505.5L777.0 505.6L780.0 505.6L783.0 505.7L786.0 505.7L789.0 505.8L792.0 505.8L795.0 505.9L798.0 505.9L801.0 506.0L804.0 506.0L804.0 506.4L807.0 506.8L810.0 507.2L813.0 507.6L816.0 508.0L819.0 508.4L822.0 508.8L825.0 509.1L828.0 509.5L831.0 509.9L834.0 510.3L837.0 510.7L840.0 511.1L843.0 511.5L846.0 511.9L849.0 512.3L852.0 512.7L855.0 513.1L858.0 513.5L861.0 514.0L864.0 514.5L867.0 514.9L870.0 515.4L873.0 515.8L876.0 516.2L879.0 516.6L882.0 516.9L885.0 517.2L888.0 517.5L891.0 517.7L894.0 517.8L897.0 517.9L900.0 518.0L903.0 517.9L906.0 517.7L909.0 517.3L912.0 516.8L915.0 516.3L918.0 515.7L921.0 515.2L924.0 514.6L927.0 513.9L930.0 513.1L933.0 512.2L936.0 511.3L939.0 510.5L942.0 509.6L945.0 508.8L948.0 508.0L951.0 507.4L954.0 506.8L957.0 506.2L960.0 505.6L963.0 505.0L966.0 504.5L969.0 504.0L972.0 503.5L975.0 503.1L978.0 502.7L981.0 502.3L984.0 501.9L987.0 501.5L990.0 501.1L993.0 500.8L996.0 500.4L999.0 500.1L1002.0 499.9L1005.0 499.7L1008.0 499.6L1011.0 499.6L1014.0 499.6L1017.0 499.7L1020.0 499.8L1023.0 500.0L1026.0 500.1L1029.0 500.3L1032.0 500.6L1035.0 501.0L1038.0 501.4L1041.0 501.8L1044.0 502.2L1047.0 502.6L1050.0 502.9L1053.0 503.2L1056.0 503.4L1059.0 503.6L1062.0 503.6L1065.0 503.7L1068.0 503.7L1071.0 503.8L1074.0 503.8L1077.0 503.9L1080.0 503.9L1083.0 503.9L1086.0 503.9L1089.0 504.0L1092.0 504.0L1095.0 504.0L1098.0 504.0L1101.0 504.0L1104.0 503.9L1107.0 503.8L1110.0 503.7L1113.0 503.5L1116.0 503.2L1119.0 503.0L1122.0 502.7L1125.0 502.4L1128.0 502.1L1131.0 501.8L1134.0 501.5L1137.0 501.2L1140.0 501.0L1143.0 500.8L1146.0 500.5L1149.0 500.2L1152.0 499.9L1155.0 499.6L1158.0 499.3L1161.0 499.0L1164.0 498.8L1167.0 498.5L1170.0 498.3L1173.0 498.2L1176.0 498.1L1179.0 498.0L1182.0 498.0L1185.0 498.0L1188.0 498.0L1191.0 498.0L1194.0 498.0L1197.0 498.0L1200.0 498.0L1203.0 498.0L1206.0 498.0L1209.0 498.0L1212.0 498.0L1215.0 498.0L1218.0 498.0L1221.0 498.0L1224.0 498.0L1227.0 498.0L1230.0 498.0L1233.0 498.0L1236.0 498.0L1236.0 532.0L1239.0 531.6L1242.0 531.2L1245.0 530.8L1247.9 530.4L1250.9 530.0L1253.9 529.5L1256.9 529.0L1259.9 528.5L1262.9 528.0L1265.9 527.4L1268.8 526.9L1271.8 526.2L1274.8 525.6L1277.8 525.0L1280.8 524.3L1283.8 523.6L1286.8 523.0L1289.8 522.3L1292.7 521.6L1295.7 520.9L1298.7 520.3L1301.7 519.6L1304.7 519.0L1307.7 518.3L1310.7 517.7L1313.6 517.0L1316.6 516.3L1319.6 515.7L1322.6 515.0L1325.6 514.3L1328.6 513.7L1331.6 513.0L1334.5 512.3L1337.5 511.6L1340.5 510.9L1343.5 510.1L1346.5 509.3L1349.5 508.4L1352.5 507.4L1355.4 506.5L1358.4 505.5L1361.4 504.6L1364.4 503.8L1367.4 503.0L1370.4 502.3L1373.4 501.7L1376.3 501.3L1379.3 501.0L1382.3 500.9L1385.3 500.8L1388.3 500.7L1391.3 500.6L1394.3 500.5L1397.2 500.4L1400.2 500.4L1403.2 500.3L1406.2 500.2L1409.2 500.2L1412.2 500.1L1415.2 500.1L1418.2 500.0L1421.1 500.0L1424.1 499.9L1427.1 499.9L1430.1 499.8L1433.1 499.8L1436.1 499.8L1439.1 499.7L1442.0 499.7L1445.0 499.7L1448.0 499.6L1451.0 499.6"/>
<path d="M63.0 523.6L66.0 523.7L69.0 523.8L72.0 523.9L75.0 524.1L78.0 524.3L81.0 524.5L84.0 524.8L87.0 525.2L90.0 525.6L93.0 526.1L96.0 526.5L99.0 526.9L102.0 527.2L105.0 527.5L108.0 527.9L111.0 528.2L114.0 528.5L117.0 528.8L120.0 529.1L123.0 529.3L126.0 529.6L129.0 529.7L132.0 529.9L135.0 530.0L138.0 530.1L141.0 530.1L144.0 530.2L147.0 530.3L150.0 530.3L153.0 530.4L156.0 530.4L159.0 530.4L162.0 530.4L165.0 530.3L168.0 530.2L171.0 530.1L174.0 529.9L177.0 529.7L180.0 529.4L183.0 529.0L186.0 528.4L189.0 527.8L192.0 527.2L195.0 526.6L198.0 526.0L201.0 525.5L204.0 524.8L207.0 524.2L210.0 523.7L213.0 523.2L216.0 522.8L219.0 522.6L222.0 522.6L225.0 522.6L228.0 522.5L231.0 522.5L234.0 522.5L237.0 522.5L240.0 522.4L243.0 522.4L246.0 522.4L249.0 522.4L252.0 522.4L255.0 522.4L258.0 522.4L261.0 522.4L264.0 522.4L267.0 522.4L270.0 522.4L273.0 522.4L276.0 522.4L279.0 522.4L282.0 522.5L285.0 522.5L288.0 522.5L291.0 522.5L294.0 522.5L297.0 522.5L300.0 522.5L303.0 522.5L306.0 522.6L309.0 522.6L312.0 522.6L315.0 522.6L318.0 522.6L321.0 522.6L324.0 522.6L327.0 522.6L330.0 522.4L333.0 522.0L336.0 521.6L339.0 521.1L342.0 520.8L345.0 520.4L348.0 520.0L351.0 519.6L354.0 519.3L357.0 518.9L360.0 518.5L363.0 518.1L366.0 517.8L369.0 517.4L372.0 517.0L375.0 516.7L378.0 516.3L381.0 515.9L384.0 515.4L387.0 514.8L390.0 514.2L393.0 513.6L396.0 513.0L399.0 512.4L402.0 511.9L405.0 511.4L408.0 511.0L411.0 510.6L414.0 510.4L417.0 510.2L420.0 510.1L423.0 510.0L426.0 509.8L429.0 509.7L432.0 509.7L435.0 509.6L438.0 509.6L438.0 521.6L441.0 522.1L444.0 522.5L447.0 523.0L450.0 523.5L453.0 523.9L456.0 524.4L459.0 524.8L462.0 525.3L465.0 525.8L468.0 526.3L471.0 526.8L474.0 527.3L477.0 527.7L480.0 528.2L483.0 528.6L486.0 529.0L489.0 529.3L492.0 529.6L495.0 529.8L498.0 530.1L501.0 530.3L504.0 530.5L507.0 530.6L510.0 530.8L513.0 531.0L516.0 531.2L519.0 531.3L522.0 531.5L525.0 531.7L528.0 531.9L531.0 532.1L534.0 532.4L537.0 532.5L540.0 532.7L543.0 532.9L546.0 532.9L549.0 533.0L552.0 533.0L555.0 533.0L558.0 533.0L561.0 533.0L564.0 532.7L567.0 532.2L570.0 531.6L573.0 530.8L576.0 530.0L579.0 529.2L582.0 528.5L585.0 527.7L588.0 526.8L591.0 526.0L594.0 525.2L597.0 524.5L600.0 524.0L603.0 523.6L606.0 523.3L609.0 523.0L612.0 522.7L615.0 522.5L618.0 522.4L621.0 522.4L624.0 522.4L627.0 522.4L630.0 522.4L633.0 522.4L636.0 522.4L639.0 522.4L642.0 522.4L645.0 522.5L648.0 522.7L651.0 522.9L654.0 523.1L657.0 523.4L660.0 523.6L663.0 523.9L666.0 524.2L669.0 524.5L672.0 524.9L675.0 525.2L678.0 525.6L681.0 526.0L684.0 526.4L687.0 526.7L690.0 527.0L693.0 527.3L696.0 527.6L699.0 527.9L702.0 528.2L705.0 528.4L708.0 528.6L711.0 528.6L714.0 528.4L717.0 528.1L720.0 527.7L723.0 527.2L726.0 526.7L729.0 526.2L732.0 525.7L735.0 525.1L738.0 524.5L741.0 523.9L744.0 523.2L747.0 522.5L750.0 521.9L753.0 521.2L756.0 520.7L759.0 520.2L762.0 519.7L765.0 519.3L768.0 518.8L771.0 518.4L774.0 518.0L777.0 517.7L780.0 517.4L783.0 517.2L786.0 517.0L789.0 516.9L792.0 516.8L795.0 516.7L798.0 516.7L801.0 516.6L804.0 516.6L804.0 525.0L807.0 524.8L810.0 524.6L813.0 524.4L816.0 524.1L819.0 524.0L822.0 523.8L825.0 523.7L828.0 523.6L831.0 523.6L834.0 523.6L837.0 523.6L840.0 523.6L843.0 523.6L846.0 523.6L849.0 523.6L852.0 523.6L855.0 523.6L858.0 523.6L861.0 523.6L864.0 523.6L867.0 523.6L870.0 523.6L873.0 523.6L876.0 523.6L879.0 523.6L882.0 523.6L885.0 523.6L888.0 523.6L891.0 523.6L894.0 523.6L897.0 523.6L900.0 523.6L903.0 523.6L906.0 523.6L909.0 523.6L912.0 523.6L915.0 523.8L918.0 524.1L921.0 524.4L924.0 524.7L927.0 524.9L930.0 525.0L933.0 525.0L936.0 525.0L939.0 525.0L942.0 525.0L945.0 525.0L948.0 525.0L951.0 525.0L954.0 525.0L957.0 525.0L960.0 525.0L963.0 525.0L966.0 525.0L969.0 525.0L972.0 525.0L975.0 525.0L978.0 525.0L981.0 525.0L984.0 524.9L987.0 524.6L990.0 524.3L993.0 524.0L996.0 523.6L999.0 523.2L1002.0 522.9L1005.0 522.6L1008.0 522.4L1011.0 522.4L1014.0 522.4L1017.0 522.4L1020.0 522.5L1023.0 522.5L1026.0 522.6L1029.0 522.7L1032.0 522.8L1035.0 522.8L1038.0 522.9L1041.0 523.0L1044.0 523.2L1047.0 523.5L1050.0 523.8L1053.0 524.2L1056.0 524.6L1059.0 525.0L1062.0 525.4L1065.0 525.8L1068.0 526.2L1071.0 526.5L1074.0 526.8L1077.0 526.9L1080.0 527.0L1083.0 527.0L1086.0 527.0L1089.0 527.0L1092.0 527.0L1095.0 527.0L1098.0 527.0L1101.0 527.0L1104.0 527.0L1107.0 526.9L1110.0 526.6L1113.0 526.1L1116.0 525.6L1119.0 525.0L1122.0 524.4L1125.0 523.8L1128.0 523.3L1131.0 522.9L1134.0 522.5L1137.0 522.1L1140.0 521.7L1143.0 521.4L1146.0 521.1L1149.0 521.0L1152.0 521.0L1155.0 521.0L1158.0 521.0L1161.0 521.0L1164.0 521.0L1167.0 521.0L1170.0 521.0L1173.0 521.0L1176.0 521.0L1179.0 521.1L1182.0 521.6L1185.0 522.2L1188.0 522.9L1191.0 523.7L1194.0 524.5L1197.0 525.3L1200.0 526.0L1203.0 526.6L1206.0 527.2L1209.0 527.8L1212.0 528.4L1215.0 529.0L1218.0 529.6L1221.0 530.2L1224.0 530.8L1227.0 531.5L1230.0 532.1L1233.0 532.7L1236.0 533.4L1236.0 534.0L1239.0 534.0L1242.0 534.0L1245.0 534.0L1247.9 534.0L1250.9 534.0L1253.9 534.0L1256.9 534.0L1259.9 534.0L1262.9 534.0L1265.9 534.0L1268.8 534.0L1271.8 534.0L1274.8 534.0L1277.8 534.0L1280.8 533.8L1283.8 533.6L1286.8 533.2L1289.8 532.8L1292.7 532.3L1295.7 531.7L1298.7 531.1L1301.7 530.5L1304.7 529.9L1307.7 529.3L1310.7 528.6L1313.6 528.1L1316.6 527.5L1319.6 527.1L1322.6 526.6L1325.6 526.2L1328.6 525.7L1331.6 525.2L1334.5 524.8L1337.5 524.4L1340.5 524.0L1343.5 523.6L1346.5 523.3L1349.5 523.0L1352.5 522.8L1355.4 522.6L1358.4 522.4L1361.4 522.2L1364.4 522.1L1367.4 522.0L1370.4 522.0L1373.4 522.0L1376.3 522.0L1379.3 522.0L1382.3 522.0L1385.3 522.0L1388.3 522.0L1391.3 522.0L1394.3 522.0L1397.2 522.0L1400.2 522.0L1403.2 522.0L1406.2 522.0L1409.2 522.0L1412.2 522.1L1415.2 522.1L1418.2 522.1L1421.1 522.1L1424.1 522.1L1427.1 522.1L1430.1 522.2L1433.1 522.2L1436.1 522.2L1439.1 522.2L1442.0 522.3L1445.0 522.3L1448.0 522.4L1451.0 522.4"/>
<path d="M63.0 537.4L66.0 537.4L69.0 537.4L72.0 537.5L75.0 537.5L78.0 537.6L81.0 537.7L84.0 537.8L87.0 537.9L90.0 538.0L93.0 538.1L96.0 538.3L99.0 538.5L102.0 538.8L105.0 539.1L108.0 539.4L111.0 539.7L114.0 540.0L117.0 540.3L120.0 540.6L123.0 540.9L126.0 541.1L129.0 541.4L132.0 541.6L135.0 541.9L138.0 542.1L141.0 542.4L144.0 542.8L147.0 543.1L150.0 543.6L153.0 544.2L156.0 544.8L159.0 545.4L162.0 545.9L165.0 546.5L168.0 546.9L171.0 547.4L174.0 547.7L177.0 547.8L180.0 547.8L183.0 547.7L186.0 547.6L189.0 547.3L192.0 546.8L195.0 546.1L198.0 545.4L201.0 544.8L204.0 544.3L207.0 543.7L210.0 543.1L213.0 542.6L216.0 542.1L219.0 541.7L222.0 541.4L225.0 541.0L228.0 540.7L231.0 540.4L234.0 540.2L237.0 539.9L240.0 539.7L243.0 539.6L246.0 539.6L249.0 539.5L252.0 539.5L255.0 539.4L258.0 539.4L261.0 539.4L264.0 539.4L267.0 539.4L270.0 539.4L273.0 539.4L276.0 539.4L279.0 539.4L282.0 539.4L285.0 539.4L288.0 539.4L291.0 539.4L294.0 539.4L297.0 539.4L300.0 539.4L303.0 539.4L306.0 539.5L309.0 539.5L312.0 539.5L315.0 539.5L318.0 539.5L321.0 539.5L324.0 539.5L327.0 539.5L330.0 539.5L333.0 539.6L336.0 539.6L339.0 539.6L342.0 539.7L345.0 539.9L348.0 540.4L351.0 540.8L354.0 541.3L357.0 541.7L360.0 542.0L363.0 542.2L366.0 542.3L369.0 542.4L372.0 542.5L375.0 542.6L378.0 542.7L381.0 542.8L384.0 542.8L387.0 542.9L390.0 543.0L393.0 543.1L396.0 543.2L399.0 543.2L402.0 543.3L405.0 543.4L408.0 543.4L411.0 543.5L414.0 543.6L417.0 543.6L420.0 543.7L423.0 543.8L426.0 543.8L429.0 543.9L432.0 543.9L435.0 544.0L438.0 544.0L438.0 540.6L441.0 540.6L444.0 540.5L447.0 540.5L450.0 540.4L453.0 540.3L456.0 540.2L459.0 540.0L462.0 539.9L465.0 539.7L468.0 539.4L471.0 539.1L474.0 538.9L477.0 538.7L480.0 538.6L483.0 538.6L486.0 538.7L489.0 538.9L492.0 539.0L495.0 539.2L498.0 539.5L501.0 539.7L504.0 540.0L507.0 540.3L510.0 540.7L513.0 541.1L516.0 541.5L519.0 541.9L522.0 542.3L525.0 542.7L528.0 543.2L531.0 543.7L534.0 544.1L537.0 544.4L540.0 544.6L543.0 544.7L546.0 544.8L549.0 544.9L552.0 544.9L555.0 545.0L558.0 545.0L561.0 545.0L564.0 544.9L567.0 544.6L570.0 544.2L573.0 543.9L576.0 543.5L579.0 543.1L582.0 542.8L585.0 542.5L588.0 542.1L591.0 541.8L594.0 541.5L597.0 541.2L600.0 541.0L603.0 540.8L606.0 540.6L609.0 540.5L612.0 540.3L615.0 540.1L618.0 540.0L621.0 539.9L624.0 539.7L627.0 539.6L630.0 539.5L633.0 539.5L636.0 539.4L639.0 539.4L642.0 539.4L645.0 539.4L648.0 539.4L651.0 539.4L654.0 539.4L657.0 539.4L660.0 539.4L663.0 539.4L666.0 539.4L669.0 539.5L672.0 539.5L675.0 539.5L678.0 539.5L681.0 539.5L684.0 539.6L687.0 539.6L690.0 539.6L693.0 539.8L696.0 540.3L699.0 541.0L702.0 541.8L705.0 542.6L708.0 543.3L711.0 543.8L714.0 544.0L717.0 543.9L720.0 543.6L723.0 543.2L726.0 542.7L729.0 542.2L732.0 541.6L735.0 540.9L738.0 540.1L741.0 539.2L744.0 538.2L747.0 537.2L750.0 536.2L753.0 535.2L756.0 534.2L759.0 533.3L762.0 532.4L765.0 531.6L768.0 530.7L771.0 529.8L774.0 528.9L777.0 528.1L780.0 527.4L783.0 526.8L786.0 526.4L789.0 526.1L792.0 525.7L795.0 525.5L798.0 525.2L801.0 525.1L804.0 525.0L804.0 533.6L807.0 533.6L810.0 533.6L813.0 533.6L816.0 533.6L819.0 533.6L822.0 533.6L825.0 533.6L828.0 533.6L831.0 533.6L834.0 533.6L837.0 533.6L840.0 533.6L843.0 533.6L846.0 533.6L849.0 533.6L852.0 533.6L855.0 533.6L858.0 533.6L861.0 533.6L864.0 533.6L867.0 533.6L870.0 533.6L873.0 533.6L876.0 533.6L879.0 533.6L882.0 533.6L885.0 533.9L888.0 534.2L891.0 534.7L894.0 535.3L897.0 536.0L900.0 536.7L903.0 537.4L906.0 538.1L909.0 538.8L912.0 539.4L915.0 540.1L918.0 540.9L921.0 541.6L924.0 542.3L927.0 543.0L930.0 543.6L933.0 544.2L936.0 544.8L939.0 545.4L942.0 545.9L945.0 546.3L948.0 546.5L951.0 546.6L954.0 546.6L957.0 546.6L960.0 546.6L963.0 546.6L966.0 546.5L969.0 546.2L972.0 545.7L975.0 545.1L978.0 544.4L981.0 543.7L984.0 543.0L987.0 542.4L990.0 542.0L993.0 541.7L996.0 541.4L999.0 541.1L1002.0 540.8L1005.0 540.5L1008.0 540.3L1011.0 540.1L1014.0 539.9L1017.0 539.8L1020.0 539.6L1023.0 539.5L1026.0 539.5L1029.0 539.4L1032.0 539.4L1035.0 539.3L1038.0 539.3L1041.0 539.2L1044.0 539.2L1047.0 539.1L1050.0 539.0L1053.0 538.9L1056.0 538.7L1059.0 538.4L1062.0 538.1L1065.0 537.8L1068.0 537.5L1071.0 537.1L1074.0 536.8L1077.0 536.5L1080.0 536.3L1083.0 536.1L1086.0 536.0L1089.0 536.0L1092.0 536.0L1095.0 536.0L1098.0 536.0L1101.0 536.0L1104.0 536.0L1107.0 536.0L1110.0 536.0L1113.0 536.0L1116.0 536.0L1119.0 536.0L1122.0 536.0L1125.0 536.0L1128.0 536.0L1131.0 536.0L1134.0 536.0L1137.0 536.0L1140.0 536.0L1143.0 536.0L1146.0 536.0L1149.0 536.0L1152.0 536.0L1155.0 536.0L1158.0 536.0L1161.0 536.0L1164.0 536.0L1167.0 536.0L1170.0 536.0L1173.0 536.0L1176.0 536.0L1179.0 536.0L1182.0 536.0L1185.0 536.0L1188.0 536.0L1191.0 536.0L1194.0 536.0L1197.0 536.0L1200.0 536.0L1203.0 536.0L1206.0 536.0L1209.0 536.0L1212.0 536.0L1215.0 536.0L1218.0 536.0L1221.0 536.0L1224.0 536.0L1227.0 536.0L1230.0 536.0L1233.0 536.0L1236.0 536.0L1236.0 554.0L1239.0 554.0L1242.0 554.0L1245.0 554.0L1247.9 554.0L1250.9 554.0L1253.9 553.8L1256.9 553.5L1259.9 553.1L1262.9 552.6L1265.9 552.0L1268.8 551.4L1271.8 550.8L1274.8 550.2L1277.8 549.7L1280.8 549.3L1283.8 549.0L1286.8 548.8L1289.8 548.7L1292.7 548.5L1295.7 548.4L1298.7 548.2L1301.7 548.1L1304.7 548.1L1307.7 548.0L1310.7 548.0L1313.6 548.0L1316.6 548.0L1319.6 548.1L1322.6 548.1L1325.6 548.1L1328.6 548.2L1331.6 548.3L1334.5 548.3L1337.5 548.4L1340.5 548.4L1343.5 548.5L1346.5 548.5L1349.5 548.6L1352.5 548.7L1355.4 548.8L1358.4 548.8L1361.4 548.9L1364.4 549.0L1367.4 549.0L1370.4 549.0L1373.4 548.9L1376.3 548.6L1379.3 548.3L1382.3 547.8L1385.3 547.3L1388.3 546.7L1391.3 546.1L1394.3 545.5L1397.2 545.0L1400.2 544.6L1403.2 544.1L1406.2 543.7L1409.2 543.2L1412.2 542.8L1415.2 542.3L1418.2 541.9L1421.1 541.5L1424.1 541.2L1427.1 540.9L1430.1 540.6L1433.1 540.4L1436.1 540.1L1439.1 540.0L1442.0 539.8L1445.0 539.6L1448.0 539.5L1451.0 539.4"/>
<path d="M63.0 572.0L66.0 572.0L69.0 572.0L72.0 571.9L75.0 571.8L78.0 571.7L81.0 571.6L84.0 571.5L87.0 571.4L90.0 571.3L93.0 571.1L96.0 571.0L99.0 570.8L102.0 570.7L105.0 570.5L108.0 570.2L111.0 570.0L114.0 569.7L117.0 569.4L120.0 569.0L123.0 568.7L126.0 568.3L129.0 567.9L132.0 567.5L135.0 567.1L138.0 566.7L141.0 566.2L144.0 565.7L147.0 565.1L150.0 564.4L153.0 563.7L156.0 563.0L159.0 562.2L162.0 561.5L165.0 560.7L168.0 559.8L171.0 558.9L174.0 558.0L177.0 557.3L180.0 556.6L183.0 556.0L186.0 555.4L189.0 555.0L192.0 555.1L195.0 555.3L198.0 555.7L201.0 556.1L204.0 556.7L207.0 557.4L210.0 558.1L213.0 558.8L216.0 559.4L219.0 559.9L222.0 560.4L225.0 560.8L228.0 561.3L231.0 561.7L234.0 562.0L237.0 562.2L240.0 562.4L243.0 562.5L246.0 562.6L249.0 562.7L252.0 562.7L255.0 562.8L258.0 562.8L261.0 562.8L264.0 562.8L267.0 562.7L270.0 562.6L273.0 562.5L276.0 562.4L279.0 562.2L282.0 561.8L285.0 561.4L288.0 560.8L291.0 560.3L294.0 559.8L297.0 559.3L300.0 559.0L303.0 558.8L306.0 558.5L309.0 558.3L312.0 558.1L315.0 557.9L318.0 557.7L321.0 557.6L324.0 557.5L327.0 557.4L330.0 557.4L333.0 557.4L336.0 557.4L339.0 557.4L342.0 557.4L345.0 557.4L348.0 557.4L351.0 557.4L354.0 557.6L357.0 557.9L360.0 558.3L363.0 558.7L366.0 559.1L369.0 559.5L372.0 559.8L375.0 560.0L378.0 560.0L381.0 560.0L384.0 560.0L387.0 560.0L390.0 560.0L393.0 560.0L396.0 560.0L399.0 560.0L402.0 560.0L405.0 560.0L408.0 560.0L411.0 560.0L414.0 560.0L417.0 560.0L420.0 559.9L423.0 559.8L426.0 559.6L429.0 559.4L432.0 559.1L435.0 558.9L438.0 558.6L438.0 543.6L441.0 543.7L444.0 543.8L447.0 543.9L450.0 544.0L453.0 544.1L456.0 544.3L459.0 544.4L462.0 544.6L465.0 544.8L468.0 545.0L471.0 545.2L474.0 545.4L477.0 545.7L480.0 546.0L483.0 546.2L486.0 546.5L489.0 546.8L492.0 547.1L495.0 547.4L498.0 547.8L501.0 548.1L504.0 548.5L507.0 548.9L510.0 549.4L513.0 549.9L516.0 550.4L519.0 550.9L522.0 551.4L525.0 551.8L528.0 552.3L531.0 552.7L534.0 553.2L537.0 553.7L540.0 554.2L543.0 554.7L546.0 555.1L549.0 555.5L552.0 555.8L555.0 556.0L558.0 556.1L561.0 556.1L564.0 556.2L567.0 556.2L570.0 556.2L573.0 556.3L576.0 556.3L579.0 556.4L582.0 556.5L585.0 556.8L588.0 557.2L591.0 557.6L594.0 558.1L597.0 558.6L600.0 559.0L603.0 559.4L606.0 559.8L609.0 560.1L612.0 560.5L615.0 560.9L618.0 561.2L621.0 561.5L624.0 561.8L627.0 562.1L630.0 562.4L633.0 562.7L636.0 562.9L639.0 563.0L642.0 563.0L645.0 563.0L648.0 563.0L651.0 563.0L654.0 563.0L657.0 563.0L660.0 563.0L663.0 563.0L666.0 562.8L669.0 562.3L672.0 561.7L675.0 560.9L678.0 560.1L681.0 559.3L684.0 558.5L687.0 557.8L690.0 556.9L693.0 556.0L696.0 555.0L699.0 554.0L702.0 553.2L705.0 552.5L708.0 552.1L711.0 552.0L714.0 552.4L717.0 553.0L720.0 553.8L723.0 554.6L726.0 555.2L729.0 555.6L732.0 555.6L735.0 555.6L738.0 555.5L741.0 555.5L744.0 555.4L747.0 555.4L750.0 555.0L753.0 554.4L756.0 553.7L759.0 552.8L762.0 551.9L765.0 551.1L768.0 550.4L771.0 549.8L774.0 549.4L777.0 548.9L780.0 548.5L783.0 548.1L786.0 547.8L789.0 547.5L792.0 547.2L795.0 547.0L798.0 546.9L801.0 546.7L804.0 546.6L804.0 570.0L807.0 569.9L810.0 569.9L813.0 569.8L816.0 569.7L819.0 569.6L822.0 569.5L825.0 569.4L828.0 569.3L831.0 569.2L834.0 569.0L837.0 568.9L840.0 568.8L843.0 568.6L846.0 568.4L849.0 568.3L852.0 568.1L855.0 567.9L858.0 567.7L861.0 567.6L864.0 567.4L867.0 567.2L870.0 567.0L873.0 566.8L876.0 566.6L879.0 566.4L882.0 566.2L885.0 566.0L888.0 565.8L891.0 565.6L894.0 565.4L897.0 565.1L900.0 564.9L903.0 564.6L906.0 564.4L909.0 564.1L912.0 563.8L915.0 563.5L918.0 563.2L921.0 562.8L924.0 562.4L927.0 562.0L930.0 561.5L933.0 560.8L936.0 559.9L939.0 558.8L942.0 557.8L945.0 556.9L948.0 556.2L951.0 555.9L954.0 555.8L957.0 555.6L960.0 555.6L963.0 555.7L966.0 556.1L969.0 556.7L972.0 557.3L975.0 558.0L978.0 558.6L981.0 559.2L984.0 559.7L987.0 560.3L990.0 560.9L993.0 561.5L996.0 562.0L999.0 562.3L1002.0 562.6L1005.0 562.6L1008.0 562.6L1011.0 562.6L1014.0 562.6L1017.0 562.6L1020.0 562.6L1023.0 562.6L1026.0 562.6L1029.0 562.6L1032.0 562.4L1035.0 562.2L1038.0 561.8L1041.0 561.3L1044.0 560.8L1047.0 560.3L1050.0 559.8L1053.0 559.4L1056.0 559.2L1059.0 559.0L1062.0 559.0L1065.0 559.0L1068.0 559.0L1071.0 559.0L1074.0 559.0L1077.0 559.0L1080.0 559.0L1083.0 559.0L1086.0 559.0L1089.0 559.2L1092.0 559.5L1095.0 559.9L1098.0 560.3L1101.0 560.7L1104.0 561.2L1107.0 561.6L1110.0 562.0L1113.0 562.4L1116.0 562.8L1119.0 563.3L1122.0 563.6L1125.0 563.9L1128.0 564.0L1131.0 563.9L1134.0 563.7L1137.0 563.4L1140.0 563.0L1143.0 562.6L1146.0 562.1L1149.0 561.5L1152.0 560.8L1155.0 560.1L1158.0 559.3L1161.0 558.5L1164.0 557.6L1167.0 556.8L1170.0 556.0L1173.0 555.2L1176.0 554.3L1179.0 553.4L1182.0 552.5L1185.0 551.5L1188.0 550.6L1191.0 549.6L1194.0 548.7L1197.0 547.8L1200.0 547.0L1203.0 546.2L1206.0 545.4L1209.0 544.7L1212.0 543.9L1215.0 543.2L1218.0 542.5L1221.0 541.8L1224.0 541.0L1227.0 540.3L1230.0 539.6L1233.0 538.9L1236.0 538.2L1236.0 565.6L1239.0 565.9L1242.0 566.1L1245.0 566.4L1247.9 566.7L1250.9 566.9L1253.9 567.1L1256.9 567.3L1259.9 567.5L1262.9 567.7L1265.9 567.8L1268.8 567.9L1271.8 568.0L1274.8 568.0L1277.8 568.0L1280.8 568.0L1283.8 568.0L1286.8 568.0L1289.8 568.0L1292.7 567.9L1295.7 567.9L1298.7 567.9L1301.7 567.9L1304.7 567.8L1307.7 567.8L1310.7 567.8L1313.6 567.7L1316.6 567.7L1319.6 567.6L1322.6 567.5L1325.6 567.3L1328.6 566.9L1331.6 566.5L1334.5 566.0L1337.5 565.5L1340.5 565.0L1343.5 564.4L1346.5 563.9L1349.5 563.5L1352.5 563.0L1355.4 562.6L1358.4 562.1L1361.4 561.6L1364.4 561.1L1367.4 560.7L1370.4 560.3L1373.4 559.9L1376.3 559.6L1379.3 559.4L1382.3 559.3L1385.3 559.2L1388.3 559.1L1391.3 559.0L1394.3 559.0L1397.2 559.0L1400.2 559.2L1403.2 559.4L1406.2 559.8L1409.2 560.2L1412.2 560.6L1415.2 561.0L1418.2 561.3L1421.1 561.5L1424.1 561.6L1427.1 561.8L1430.1 562.0L1433.1 562.1L1436.1 562.2L1439.1 562.3L1442.0 562.4L1445.0 562.5L1448.0 562.6L1451.0 562.6"/>
<path d="M63.0 572.6L66.0 572.6L69.0 572.6L72.0 572.6L75.0 572.6L78.0 572.6L81.0 572.6L84.0 572.6L87.0 572.6L90.0 572.6L93.0 572.6L96.0 572.5L99.0 572.5L102.0 572.5L105.0 572.5L108.0 572.5L111.0 572.5L114.0 572.5L117.0 572.5L120.0 572.4L123.0 572.4L126.0 572.4L129.0 572.3L132.0 572.2L135.0 572.0L138.0 571.7L141.0 571.5L144.0 571.2L147.0 570.9L150.0 570.7L153.0 570.5L156.0 570.4L159.0 570.3L162.0 570.2L165.0 570.2L168.0 570.1L171.0 570.1L174.0 570.0L177.0 570.0L180.0 570.0L183.0 570.0L186.0 570.0L189.0 570.0L192.0 570.0L195.0 570.0L198.0 570.0L201.0 570.0L204.0 570.0L207.0 570.0L210.0 570.0L213.0 570.0L216.0 570.0L219.0 570.0L222.0 570.0L225.0 570.0L228.0 570.0L231.0 570.0L234.0 570.0L237.0 570.0L240.0 570.0L243.0 570.0L246.0 570.0L249.0 570.0L252.0 570.0L255.0 570.0L258.0 570.0L261.0 570.0L264.0 570.1L267.0 570.2L270.0 570.4L273.0 570.7L276.0 571.0L279.0 571.4L282.0 571.8L285.0 572.0L288.0 572.0L291.0 572.0L294.0 572.0L297.0 572.0L300.0 572.0L303.0 572.0L306.0 572.0L309.0 572.0L312.0 572.0L315.0 572.0L318.0 572.0L321.0 571.8L324.0 571.4L327.0 571.0L330.0 570.5L333.0 570.0L336.0 569.5L339.0 569.1L342.0 568.8L345.0 568.4L348.0 568.0L351.0 567.6L354.0 567.2L357.0 566.8L360.0 566.5L363.0 566.3L366.0 566.1L369.0 566.0L372.0 566.0L375.0 566.0L378.0 566.0L381.0 566.0L384.0 566.0L387.0 566.0L390.0 566.0L393.0 566.1L396.0 566.3L399.0 566.6L402.0 567.0L405.0 567.4L408.0 567.8L411.0 568.2L414.0 568.6L417.0 568.8L420.0 569.0L423.0 569.1L426.0 569.2L429.0 569.3L432.0 569.3L435.0 569.4L438.0 569.4L438.0 609.0L441.0 608.9L444.0 608.7L447.0 608.5L450.0 608.2L453.0 607.9L456.0 607.5L459.0 607.0L462.0 606.4L465.0 605.7L468.0 605.0L471.0 604.2L474.0 603.3L477.0 602.5L480.0 601.6L483.0 600.7L486.0 599.7L489.0 598.6L492.0 597.4L495.0 596.2L498.0 594.9L501.0 593.6L504.0 592.2L507.0 590.7L510.0 589.1L513.0 587.5L516.0 585.9L519.0 584.2L522.0 582.4L525.0 580.5L528.0 578.5L531.0 576.5L534.0 574.5L537.0 572.7L540.0 571.0L543.0 569.4L546.0 567.9L549.0 566.7L552.0 565.8L555.0 565.1L558.0 564.5L561.0 564.4L564.0 564.4L567.0 564.4L570.0 564.4L573.0 564.4L576.0 564.5L579.0 564.9L582.0 565.6L585.0 566.3L588.0 567.0L591.0 567.6L594.0 568.0L597.0 568.5L600.0 569.0L603.0 569.4L606.0 569.8L609.0 570.0L612.0 570.0L615.0 570.1L618.0 570.2L621.0 570.2L624.0 570.3L627.0 570.3L630.0 570.4L633.0 570.4L636.0 570.4L639.0 570.4L642.0 570.4L645.0 570.3L648.0 570.3L651.0 570.2L654.0 570.1L657.0 570.0L660.0 570.0L663.0 570.1L666.0 570.4L669.0 570.7L672.0 571.0L675.0 571.3L678.0 571.4L681.0 571.3L684.0 571.1L687.0 570.7L690.0 570.3L693.0 569.8L696.0 569.2L699.0 568.7L702.0 568.2L705.0 567.7L708.0 567.3L711.0 566.9L714.0 566.4L717.0 566.0L720.0 565.5L723.0 565.2L726.0 565.0L729.0 565.0L732.0 565.4L735.0 566.0L738.0 566.8L741.0 567.7L744.0 568.6L747.0 569.8L750.0 571.2L753.0 572.7L756.0 574.1L759.0 575.6L762.0 576.9L765.0 578.3L768.0 579.6L771.0 581.0L774.0 582.3L777.0 583.4L780.0 584.4L783.0 585.3L786.0 586.2L789.0 587.0L792.0 587.7L795.0 588.0L798.0 588.0L801.0 588.0L804.0 588.0L804.0 602.0L807.0 602.0L810.0 602.0L813.0 602.0L816.0 602.0L819.0 602.0L822.0 602.0L825.0 601.7L828.0 601.3L831.0 600.7L834.0 600.1L837.0 599.3L840.0 598.5L843.0 597.7L846.0 597.0L849.0 596.2L852.0 595.6L855.0 594.9L858.0 594.2L861.0 593.5L864.0 592.8L867.0 592.1L870.0 591.4L873.0 590.6L876.0 589.9L879.0 589.1L882.0 588.3L885.0 587.4L888.0 586.6L891.0 585.7L894.0 584.7L897.0 583.6L900.0 582.4L903.0 581.3L906.0 580.2L909.0 579.3L912.0 578.5L915.0 577.8L918.0 577.2L921.0 576.6L924.0 576.0L927.0 575.5L930.0 575.0L933.0 574.5L936.0 574.0L939.0 573.5L942.0 573.0L945.0 572.6L948.0 572.1L951.0 571.7L954.0 571.4L957.0 571.2L960.0 571.0L963.0 570.9L966.0 570.8L969.0 570.6L972.0 570.5L975.0 570.4L978.0 570.3L981.0 570.3L984.0 570.2L987.0 570.1L990.0 570.1L993.0 570.0L996.0 570.0L999.0 570.0L1002.0 570.0L1005.0 570.0L1008.0 570.0L1011.0 570.0L1014.0 570.0L1017.0 570.0L1020.0 570.0L1023.0 570.0L1026.0 570.0L1029.0 570.0L1032.0 570.2L1035.0 570.6L1038.0 571.0L1041.0 571.6L1044.0 572.2L1047.0 572.7L1050.0 573.2L1053.0 573.5L1056.0 573.6L1059.0 573.6L1062.0 573.6L1065.0 573.6L1068.0 573.6L1071.0 573.6L1074.0 573.6L1077.0 573.6L1080.0 573.6L1083.0 573.6L1086.0 573.6L1089.0 573.6L1092.0 573.6L1095.0 573.6L1098.0 573.6L1101.0 573.6L1104.0 573.4L1107.0 573.0L1110.0 572.6L1113.0 572.2L1116.0 571.8L1119.0 571.6L1122.0 571.6L1125.0 571.6L1128.0 571.7L1131.0 571.7L1134.0 571.8L1137.0 571.9L1140.0 572.0L1143.0 572.2L1146.0 572.6L1149.0 573.2L1152.0 574.0L1155.0 574.8L1158.0 575.7L1161.0 576.6L1164.0 577.4L1167.0 578.3L1170.0 579.0L1173.0 579.7L1176.0 580.4L1179.0 581.1L1182.0 581.8L1185.0 582.5L1188.0 583.2L1191.0 583.9L1194.0 584.5L1197.0 585.1L1200.0 585.6L1203.0 586.1L1206.0 586.6L1209.0 587.2L1212.0 587.7L1215.0 588.1L1218.0 588.5L1221.0 588.8L1224.0 589.0L1227.0 589.0L1230.0 589.0L1233.0 589.0L1236.0 589.0L1236.0 597.0L1239.0 596.4L1242.0 595.9L1245.0 595.3L1247.9 594.8L1250.9 594.3L1253.9 593.7L1256.9 593.2L1259.9 592.6L1262.9 592.1L1265.9 591.5L1268.8 591.0L1271.8 590.5L1274.8 589.9L1277.8 589.4L1280.8 588.9L1283.8 588.3L1286.8 587.8L1289.8 587.2L1292.7 586.6L1295.7 586.1L1298.7 585.5L1301.7 584.9L1304.7 584.4L1307.7 583.9L1310.7 583.4L1313.6 582.9L1316.6 582.5L1319.6 582.0L1322.6 581.7L1325.6 581.3L1328.6 581.0L1331.6 580.7L1334.5 580.4L1337.5 580.1L1340.5 579.8L1343.5 579.5L1346.5 579.2L1349.5 579.0L1352.5 578.7L1355.4 578.4L1358.4 578.1L1361.4 577.9L1364.4 577.6L1367.4 577.3L1370.4 577.1L1373.4 576.8L1376.3 576.5L1379.3 576.3L1382.3 576.0L1385.3 575.8L1388.3 575.5L1391.3 575.2L1394.3 575.0L1397.2 574.7L1400.2 574.4L1403.2 574.1L1406.2 573.7L1409.2 573.4L1412.2 573.0L1415.2 572.6L1418.2 572.2L1421.1 571.8L1424.1 571.4L1427.1 571.1L1430.1 570.8L1433.1 570.5L1436.1 570.2L1439.1 570.1L1442.0 569.9L1445.0 569.8L1448.0 569.7L1451.0 569.6"/>
<path d="M63.0 606.6L66.0 606.7L69.0 606.9L72.0 607.0L75.0 607.2L78.0 607.3L81.0 607.5L84.0 607.7L87.0 607.8L90.0 608.0L93.0 608.2L96.0 608.4L99.0 608.7L102.0 609.0L105.0 609.2L108.0 609.5L111.0 609.7L114.0 609.8L117.0 610.0L120.0 610.0L123.0 610.0L126.0 609.9L129.0 609.8L132.0 609.7L135.0 609.5L138.0 609.1L141.0 608.4L144.0 607.6L147.0 606.6L150.0 605.6L153.0 604.5L156.0 603.1L159.0 601.6L162.0 600.0L165.0 598.5L168.0 597.0L171.0 595.4L174.0 593.8L177.0 592.2L180.0 590.7L183.0 589.4L186.0 588.4L189.0 587.6L192.0 586.9L195.0 586.3L198.0 585.9L201.0 585.5L204.0 585.1L207.0 584.8L210.0 584.5L213.0 584.3L216.0 584.1L219.0 584.0L222.0 584.0L225.0 584.0L228.0 584.0L231.0 584.0L234.0 584.0L237.0 584.0L240.0 584.0L243.0 584.0L246.0 584.0L249.0 584.0L252.0 584.0L255.0 584.0L258.0 584.0L261.0 584.0L264.0 584.0L267.0 584.0L270.0 584.0L273.0 584.2L276.0 584.6L279.0 585.3L282.0 586.0L285.0 586.8L288.0 587.5L291.0 588.2L294.0 589.1L297.0 590.0L300.0 591.0L303.0 592.1L306.0 593.4L309.0 594.7L312.0 596.2L315.0 597.6L318.0 599.1L321.0 600.5L324.0 602.0L327.0 603.7L330.0 605.4L333.0 606.9L336.0 608.2L339.0 609.1L342.0 609.6L345.0 610.1L348.0 610.4L351.0 610.7L354.0 610.9L357.0 611.1L360.0 611.3L363.0 611.4L366.0 611.5L369.0 611.6L372.0 611.6L375.0 611.5L378.0 611.3L381.0 611.1L384.0 610.9L387.0 610.6L390.0 610.3L393.0 610.1L396.0 609.9L399.0 609.7L402.0 609.5L405.0 609.3L408.0 609.2L411.0 609.1L414.0 608.9L417.0 608.8L420.0 608.6L423.0 608.5L426.0 608.4L429.0 608.3L432.0 608.2L435.0 608.1L438.0 608.0L438.0 625.0L441.0 625.0L444.0 625.0L447.0 625.0L450.0 625.0L453.0 625.0L456.0 625.0L459.0 625.0L462.0 625.0L465.0 624.9L468.0 624.7L471.0 624.4L474.0 624.0L477.0 623.7L480.0 623.3L483.0 622.9L486.0 622.5L489.0 622.1L492.0 621.8L495.0 621.4L498.0 621.1L501.0 620.8L504.0 620.4L507.0 620.0L510.0 619.6L513.0 619.2L516.0 618.7L519.0 618.2L522.0 617.6L525.0 616.9L528.0 616.0L531.0 615.1L534.0 614.1L537.0 613.1L540.0 612.0L543.0 610.8L546.0 609.5L549.0 608.1L552.0 606.7L555.0 605.3L558.0 603.9L561.0 602.6L564.0 601.3L567.0 600.0L570.0 598.8L573.0 597.6L576.0 596.4L579.0 595.3L582.0 594.3L585.0 593.3L588.0 592.3L591.0 591.4L594.0 590.5L597.0 589.7L600.0 589.0L603.0 588.3L606.0 587.7L609.0 587.1L612.0 586.5L615.0 586.0L618.0 585.6L621.0 585.3L624.0 585.0L627.0 584.7L630.0 584.4L633.0 584.2L636.0 584.0L639.0 583.8L642.0 583.7L645.0 583.6L648.0 583.6L651.0 583.6L654.0 583.6L657.0 583.7L660.0 583.7L663.0 583.8L666.0 583.9L669.0 584.0L672.0 584.1L675.0 584.5L678.0 585.0L681.0 585.6L684.0 586.3L687.0 587.0L690.0 587.6L693.0 588.2L696.0 588.8L699.0 589.4L702.0 590.0L705.0 590.6L708.0 591.2L711.0 591.8L714.0 592.4L717.0 593.0L720.0 593.6L723.0 594.2L726.0 594.8L729.0 595.3L732.0 595.9L735.0 596.5L738.0 597.0L741.0 597.5L744.0 597.9L747.0 598.4L750.0 598.9L753.0 599.3L756.0 599.7L759.0 599.9L762.0 600.0L765.0 600.0L768.0 600.0L771.0 600.0L774.0 600.0L777.0 600.0L780.0 600.0L783.0 600.0L786.0 600.0L789.0 600.0L792.0 600.0L795.0 600.0L798.0 600.0L801.0 600.0L804.0 600.0L804.0 637.0L807.0 637.0L810.0 636.9L813.0 636.8L816.0 636.7L819.0 636.6L822.0 636.5L825.0 636.3L828.0 636.1L831.0 635.9L834.0 635.7L837.0 635.5L840.0 635.1L843.0 634.8L846.0 634.4L849.0 633.9L852.0 633.5L855.0 632.9L858.0 632.4L861.0 631.8L864.0 631.0L867.0 630.1L870.0 629.1L873.0 627.9L876.0 626.7L879.0 625.4L882.0 624.1L885.0 622.6L888.0 620.9L891.0 619.2L894.0 617.4L897.0 615.6L900.0 614.0L903.0 612.4L906.0 610.9L909.0 609.3L912.0 607.8L915.0 606.3L918.0 604.9L921.0 603.6L924.0 602.4L927.0 601.2L930.0 600.0L933.0 598.6L936.0 596.9L939.0 595.3L942.0 593.7L945.0 592.4L948.0 591.3L951.0 590.3L954.0 589.3L957.0 588.4L960.0 587.6L963.0 586.9L966.0 586.3L969.0 585.8L972.0 585.3L975.0 584.9L978.0 584.5L981.0 584.1L984.0 583.9L987.0 583.7L990.0 583.6L993.0 583.6L996.0 583.6L999.0 583.6L1002.0 583.6L1005.0 583.6L1008.0 583.6L1011.0 583.6L1014.0 583.6L1017.0 583.6L1020.0 583.6L1023.0 583.6L1026.0 583.6L1029.0 583.6L1032.0 583.6L1035.0 583.8L1038.0 584.1L1041.0 584.5L1044.0 585.0L1047.0 585.5L1050.0 586.1L1053.0 586.7L1056.0 587.3L1059.0 587.8L1062.0 588.4L1065.0 589.0L1068.0 589.7L1071.0 590.4L1074.0 591.2L1077.0 591.9L1080.0 592.7L1083.0 593.5L1086.0 594.2L1089.0 594.9L1092.0 595.5L1095.0 596.0L1098.0 596.4L1101.0 596.7L1104.0 596.9L1107.0 597.1L1110.0 597.3L1113.0 597.5L1116.0 597.7L1119.0 597.8L1122.0 597.9L1125.0 598.0L1128.0 598.1L1131.0 598.2L1134.0 598.3L1137.0 598.4L1140.0 598.5L1143.0 598.6L1146.0 598.7L1149.0 598.7L1152.0 598.8L1155.0 598.9L1158.0 598.9L1161.0 598.9L1164.0 599.0L1167.0 599.0L1170.0 599.0L1173.0 599.0L1176.0 599.0L1179.0 599.0L1182.0 599.0L1185.0 599.0L1188.0 599.0L1191.0 599.0L1194.0 599.0L1197.0 599.0L1200.0 599.0L1203.0 599.0L1206.0 599.0L1209.0 599.0L1212.0 599.0L1215.0 599.0L1218.0 599.0L1221.0 599.0L1224.0 599.0L1227.0 599.0L1230.0 599.0L1233.0 599.0L1236.0 599.0L1236.0 600.0L1239.0 600.6L1242.0 601.1L1245.0 601.7L1247.9 602.3L1250.9 603.0L1253.9 603.6L1256.9 604.3L1259.9 605.0L1262.9 605.7L1265.9 606.5L1268.8 607.3L1271.8 608.1L1274.8 609.0L1277.8 609.8L1280.8 610.7L1283.8 611.5L1286.8 612.2L1289.8 612.9L1292.7 613.6L1295.7 614.4L1298.7 615.1L1301.7 615.8L1304.7 616.3L1307.7 616.8L1310.7 617.0L1313.6 617.2L1316.6 617.4L1319.6 617.5L1322.6 617.6L1325.6 617.5L1328.6 617.0L1331.6 616.1L1334.5 615.1L1337.5 613.9L1340.5 612.8L1343.5 611.7L1346.5 610.4L1349.5 609.1L1352.5 607.6L1355.4 606.2L1358.4 604.7L1361.4 603.3L1364.4 601.8L1367.4 600.2L1370.4 598.6L1373.4 597.0L1376.3 595.5L1379.3 594.3L1382.3 593.2L1385.3 592.1L1388.3 591.1L1391.3 590.2L1394.3 589.4L1397.2 588.6L1400.2 587.9L1403.2 587.3L1406.2 586.6L1409.2 585.9L1412.2 585.3L1415.2 584.9L1418.2 584.5L1421.1 584.3L1424.1 584.2L1427.1 584.1L1430.1 584.0L1433.1 583.9L1436.1 583.8L1439.1 583.7L1442.0 583.7L1445.0 583.6L1448.0 583.6L1451.0 583.6"/>
<path d="M63.0 658.5L66.0 658.4L69.0 658.3L72.0 658.0L75.0 657.6L78.0 657.2L81.0 656.7L84.0 656.1L87.0 655.4L90.0 654.3L93.0 653.0L96.0 651.5L99.0 650.0L102.0 648.6L105.0 647.1L108.0 645.5L111.0 643.8L114.0 642.2L117.0 640.4L120.0 638.5L123.0 636.5L126.0 634.4L129.0 632.4L132.0 630.4L135.0 628.6L138.0 626.8L141.0 625.0L144.0 623.2L147.0 621.8L150.0 621.0L153.0 620.5L156.0 620.2L159.0 620.0L162.0 620.0L165.0 620.0L168.0 620.0L171.0 620.0L174.0 620.0L177.0 620.0L180.0 620.0L183.0 620.0L186.0 620.0L189.0 620.2L192.0 620.7L195.0 621.2L198.0 621.8L201.0 622.1L204.0 622.4L207.0 622.6L210.0 622.9L213.0 623.1L216.0 623.3L219.0 623.4L222.0 623.5L225.0 623.6L228.0 623.6L231.0 623.6L234.0 623.6L237.0 623.6L240.0 623.6L243.0 623.6L246.0 623.6L249.0 623.6L252.0 623.6L255.0 623.6L258.0 623.6L261.0 623.6L264.0 623.6L267.0 623.6L270.0 623.6L273.0 623.6L276.0 623.6L279.0 623.6L282.0 623.6L285.0 623.7L288.0 623.7L291.0 623.7L294.0 623.7L297.0 623.7L300.0 623.8L303.0 623.8L306.0 623.8L309.0 623.9L312.0 623.9L315.0 623.9L318.0 624.0L321.0 624.0L324.0 624.2L327.0 624.6L330.0 625.0L333.0 625.5L336.0 626.0L339.0 626.5L342.0 627.1L345.0 627.8L348.0 628.5L351.0 629.3L354.0 630.3L357.0 631.2L360.0 631.6L363.0 631.6L366.0 631.6L369.0 631.6L372.0 631.6L375.0 631.6L378.0 631.6L381.0 631.6L384.0 631.5L387.0 631.4L390.0 631.1L393.0 630.8L396.0 630.5L399.0 630.2L402.0 629.8L405.0 629.4L408.0 629.0L411.0 628.7L414.0 628.4L417.0 628.2L420.0 628.0L423.0 627.9L426.0 627.7L429.0 627.6L432.0 627.5L435.0 627.5L438.0 627.4L438.0 667.3L441.0 666.6L444.0 665.9L447.0 665.2L450.0 664.4L453.0 663.7L456.0 663.0L459.0 662.3L462.0 661.6L465.0 660.9L468.0 660.2L471.0 659.5L474.0 658.6L477.0 657.7L480.0 656.5L483.0 655.3L486.0 653.9L489.0 652.4L492.0 651.0L495.0 649.5L498.0 648.1L501.0 646.6L504.0 645.1L507.0 643.5L510.0 642.0L513.0 640.4L516.0 638.9L519.0 637.5L522.0 636.1L525.0 634.6L528.0 633.2L531.0 631.8L534.0 630.5L537.0 629.2L540.0 628.0L543.0 626.8L546.0 625.6L549.0 624.5L552.0 623.4L555.0 622.6L558.0 622.0L561.0 621.4L564.0 620.8L567.0 620.2L570.0 619.8L573.0 619.4L576.0 619.1L579.0 619.0L582.0 619.0L585.0 619.0L588.0 619.0L591.0 619.0L594.0 619.0L597.0 619.1L600.0 619.3L603.0 619.5L606.0 619.9L609.0 620.3L612.0 620.7L615.0 621.0L618.0 621.4L621.0 621.7L624.0 622.0L627.0 622.3L630.0 622.6L633.0 622.9L636.0 623.1L639.0 623.3L642.0 623.4L645.0 623.5L648.0 623.5L651.0 623.6L654.0 623.6L657.0 623.6L660.0 623.6L663.0 623.6L666.0 623.6L669.0 623.6L672.0 623.6L675.0 623.6L678.0 623.6L681.0 623.6L684.0 623.6L687.0 623.6L690.0 623.5L693.0 623.4L696.0 623.2L699.0 623.0L702.0 622.8L705.0 622.6L708.0 622.4L711.0 622.2L714.0 622.1L717.0 622.0L720.0 622.0L723.0 622.0L726.0 622.0L729.0 622.0L732.0 622.0L735.0 622.0L738.0 622.0L741.0 622.0L744.0 622.0L747.0 622.0L750.0 622.0L753.0 622.0L756.0 622.0L759.0 622.1L762.0 622.1L765.0 622.1L768.0 622.1L771.0 622.2L774.0 622.2L777.0 622.2L780.0 622.3L783.0 622.3L786.0 622.3L789.0 622.4L792.0 622.5L795.0 622.7L798.0 623.0L801.0 623.3L804.0 623.6L804.0 670.0L807.0 669.8L810.0 669.5L813.0 669.2L816.0 668.8L819.0 668.4L822.0 667.9L825.0 667.4L828.0 666.9L831.0 666.3L834.0 665.6L837.0 664.8L840.0 663.9L843.0 662.9L846.0 661.9L849.0 660.8L852.0 659.7L855.0 658.6L858.0 657.5L861.0 656.5L864.0 655.5L867.0 654.6L870.0 653.8L873.0 652.9L876.0 652.1L879.0 651.3L882.0 650.5L885.0 649.7L888.0 648.9L891.0 648.1L894.0 647.4L897.0 646.6L900.0 645.8L903.0 645.1L906.0 644.4L909.0 643.8L912.0 643.1L915.0 642.5L918.0 641.9L921.0 641.3L924.0 640.7L927.0 640.1L930.0 639.4L933.0 638.6L936.0 637.8L939.0 637.0L942.0 636.1L945.0 635.3L948.0 634.5L951.0 633.8L954.0 633.1L957.0 632.4L960.0 631.8L963.0 631.2L966.0 630.5L969.0 630.0L972.0 629.4L975.0 628.9L978.0 628.3L981.0 627.8L984.0 627.3L987.0 626.8L990.0 626.4L993.0 625.9L996.0 625.5L999.0 625.1L1002.0 624.8L1005.0 624.5L1008.0 624.3L1011.0 624.0L1014.0 623.8L1017.0 623.7L1020.0 623.6L1023.0 623.6L1026.0 623.6L1029.0 623.6L1032.0 623.6L1035.0 623.6L1038.0 623.6L1041.0 623.6L1044.0 623.6L1047.0 623.6L1050.0 623.6L1053.0 623.6L1056.0 623.6L1059.0 623.6L1062.0 623.6L1065.0 623.6L1068.0 623.6L1071.0 623.6L1074.0 623.6L1077.0 623.6L1080.0 623.8L1083.0 624.1L1086.0 624.6L1089.0 625.2L1092.0 625.8L1095.0 626.5L1098.0 627.2L1101.0 627.8L1104.0 628.7L1107.0 629.6L1110.0 630.7L1113.0 631.7L1116.0 632.6L1119.0 633.4L1122.0 634.0L1125.0 634.6L1128.0 635.1L1131.0 635.5L1134.0 635.6L1137.0 635.6L1140.0 635.6L1143.0 635.6L1146.0 635.6L1149.0 635.6L1152.0 635.6L1155.0 635.5L1158.0 635.3L1161.0 634.9L1164.0 634.5L1167.0 634.0L1170.0 633.5L1173.0 633.0L1176.0 632.5L1179.0 632.1L1182.0 631.8L1185.0 631.4L1188.0 631.0L1191.0 630.7L1194.0 630.3L1197.0 630.0L1200.0 629.6L1203.0 629.4L1206.0 629.2L1209.0 629.0L1212.0 628.9L1215.0 628.9L1218.0 628.8L1221.0 628.7L1224.0 628.7L1227.0 628.7L1230.0 628.6L1233.0 628.6L1236.0 628.6L1236.0 666.8L1239.0 666.5L1242.0 666.1L1245.0 665.6L1247.9 665.0L1250.9 664.4L1253.9 663.8L1256.9 663.0L1259.9 662.2L1262.9 661.2L1265.9 660.2L1268.8 659.2L1271.8 658.1L1274.8 656.9L1277.8 655.7L1280.8 654.4L1283.8 653.1L1286.8 651.7L1289.8 650.3L1292.7 648.8L1295.7 647.3L1298.7 645.6L1301.7 643.9L1304.7 642.1L1307.7 640.4L1310.7 638.7L1313.6 637.1L1316.6 635.5L1319.6 633.9L1322.6 632.5L1325.6 631.4L1328.6 630.3L1331.6 629.3L1334.5 628.4L1337.5 627.8L1340.5 627.6L1343.5 627.5L1346.5 627.4L1349.5 627.4L1352.5 627.3L1355.4 627.3L1358.4 627.3L1361.4 627.2L1364.4 627.2L1367.4 627.2L1370.4 627.2L1373.4 627.1L1376.3 627.1L1379.3 627.0L1382.3 626.9L1385.3 626.8L1388.3 626.7L1391.3 626.6L1394.3 626.4L1397.2 626.3L1400.2 626.1L1403.2 625.9L1406.2 625.8L1409.2 625.6L1412.2 625.4L1415.2 625.2L1418.2 625.1L1421.1 624.9L1424.1 624.8L1427.1 624.7L1430.1 624.5L1433.1 624.4L1436.1 624.3L1439.1 624.1L1442.0 624.0L1445.0 623.9L1448.0 623.7L1451.0 623.6"/>
<path d="M63.0 696.7L66.0 696.6L69.0 696.4L72.0 696.3L75.0 696.1L78.0 695.9L81.0 695.6L84.0 695.4L87.0 695.1L90.0 694.8L93.0 694.5L96.0 694.1L99.0 693.7L102.0 693.3L105.0 692.8L108.0 692.3L111.0 691.8L114.0 691.3L117.0 690.7L120.0 690.2L123.0 689.6L126.0 688.9L129.0 688.2L132.0 687.5L135.0 686.8L138.0 686.0L141.0 685.2L144.0 684.4L147.0 683.6L150.0 682.7L153.0 681.7L156.0 680.8L159.0 679.8L162.0 678.8L165.0 677.7L168.0 676.6L171.0 675.5L174.0 674.3L177.0 673.1L180.0 671.8L183.0 670.5L186.0 669.2L189.0 668.0L192.0 667.0L195.0 665.9L198.0 664.9L201.0 663.9L204.0 663.0L207.0 662.1L210.0 661.2L213.0 660.5L216.0 659.8L219.0 659.1L222.0 658.4L225.0 657.8L228.0 657.2L231.0 656.7L234.0 656.3L237.0 656.0L240.0 655.7L243.0 655.4L246.0 655.2L249.0 655.0L252.0 654.8L255.0 654.7L258.0 654.5L261.0 654.4L264.0 654.3L267.0 654.2L270.0 654.1L273.0 654.1L276.0 654.0L279.0 653.9L282.0 653.8L285.0 653.7L288.0 653.6L291.0 653.4L294.0 653.2L297.0 652.7L300.0 652.3L303.0 651.7L306.0 651.1L309.0 650.6L312.0 650.1L315.0 649.7L318.0 649.4L321.0 649.1L324.0 648.8L327.0 648.5L330.0 648.2L333.0 648.0L336.0 647.8L339.0 647.7L342.0 647.6L345.0 647.6L348.0 647.9L351.0 648.3L354.0 648.7L357.0 649.3L360.0 650.0L363.0 651.1L366.0 652.5L369.0 653.9L372.0 655.4L375.0 656.7L378.0 658.0L381.0 659.3L384.0 660.6L387.0 661.9L390.0 663.0L393.0 663.9L396.0 664.8L399.0 665.5L402.0 666.3L405.0 666.9L408.0 667.6L411.0 668.2L414.0 668.9L417.0 669.5L420.0 670.1L423.0 670.7L426.0 671.1L429.0 671.3L432.0 671.5L435.0 671.6L438.0 671.6L438.0 667.9L441.0 668.2L444.0 668.4L447.0 668.6L450.0 668.8L453.0 669.0L456.0 669.1L459.0 669.2L462.0 669.2L465.0 669.2L468.0 669.2L471.0 669.2L474.0 669.1L477.0 669.1L480.0 669.1L483.0 669.0L486.0 669.0L489.0 668.9L492.0 668.9L495.0 668.8L498.0 668.7L501.0 668.7L504.0 668.6L507.0 668.4L510.0 668.2L513.0 668.0L516.0 667.7L519.0 667.5L522.0 667.2L525.0 666.8L528.0 666.5L531.0 666.2L534.0 665.8L537.0 665.5L540.0 665.2L543.0 664.9L546.0 664.5L549.0 664.2L552.0 663.8L555.0 663.4L558.0 663.0L561.0 662.6L564.0 662.1L567.0 661.7L570.0 661.3L573.0 660.9L576.0 660.5L579.0 660.1L582.0 659.7L585.0 659.4L588.0 659.0L591.0 658.6L594.0 658.2L597.0 657.8L600.0 657.4L603.0 657.1L606.0 656.7L609.0 656.4L612.0 656.1L615.0 655.9L618.0 655.6L621.0 655.4L624.0 655.2L627.0 655.0L630.0 654.9L633.0 654.8L636.0 654.7L639.0 654.7L642.0 654.6L645.0 654.6L648.0 654.5L651.0 654.5L654.0 654.5L657.0 654.5L660.0 654.5L663.0 654.6L666.0 654.6L669.0 654.7L672.0 654.8L675.0 654.9L678.0 655.0L681.0 655.1L684.0 655.3L687.0 655.5L690.0 655.7L693.0 655.9L696.0 656.1L699.0 656.4L702.0 656.6L705.0 656.9L708.0 657.1L711.0 657.4L714.0 657.6L717.0 657.8L720.0 658.1L723.0 658.3L726.0 658.6L729.0 658.9L732.0 659.2L735.0 659.4L738.0 659.7L741.0 659.9L744.0 660.2L747.0 660.4L750.0 660.6L753.0 660.7L756.0 660.8L759.0 660.9L762.0 661.0L765.0 661.1L768.0 661.2L771.0 661.3L774.0 661.4L777.0 661.4L780.0 661.5L783.0 661.6L786.0 661.6L789.0 661.7L792.0 661.8L795.0 661.8L798.0 661.9L801.0 661.9L804.0 662.0L804.0 684.7L807.0 684.7L810.0 684.7L813.0 684.7L816.0 684.7L819.0 684.7L822.0 684.7L825.0 684.7L828.0 684.7L831.0 684.7L834.0 684.7L837.0 684.7L840.0 684.6L843.0 684.4L846.0 684.1L849.0 683.8L852.0 683.5L855.0 683.0L858.0 682.6L861.0 682.1L864.0 681.6L867.0 681.1L870.0 680.6L873.0 680.1L876.0 679.6L879.0 679.1L882.0 678.7L885.0 678.2L888.0 677.6L891.0 677.1L894.0 676.5L897.0 675.9L900.0 675.3L903.0 674.7L906.0 674.1L909.0 673.5L912.0 672.8L915.0 672.2L918.0 671.6L921.0 670.9L924.0 670.3L927.0 669.6L930.0 669.0L933.0 668.3L936.0 667.6L939.0 666.9L942.0 666.2L945.0 665.5L948.0 664.8L951.0 664.2L954.0 663.5L957.0 662.9L960.0 662.2L963.0 661.6L966.0 660.9L969.0 660.3L972.0 659.7L975.0 659.1L978.0 658.6L981.0 658.1L984.0 657.7L987.0 657.4L990.0 657.1L993.0 656.8L996.0 656.5L999.0 656.2L1002.0 656.0L1005.0 655.7L1008.0 655.5L1011.0 655.3L1014.0 655.1L1017.0 654.9L1020.0 654.8L1023.0 654.8L1026.0 654.7L1029.0 654.7L1032.0 654.6L1035.0 654.6L1038.0 654.6L1041.0 654.5L1044.0 654.4L1047.0 654.2L1050.0 654.0L1053.0 653.7L1056.0 653.4L1059.0 653.1L1062.0 652.8L1065.0 652.4L1068.0 652.1L1071.0 651.8L1074.0 651.5L1077.0 651.1L1080.0 650.8L1083.0 650.4L1086.0 650.0L1089.0 649.7L1092.0 649.3L1095.0 648.9L1098.0 648.5L1101.0 648.1L1104.0 647.6L1107.0 647.1L1110.0 646.6L1113.0 646.3L1116.0 646.0L1119.0 646.0L1122.0 646.0L1125.0 646.0L1128.0 646.0L1131.0 646.0L1134.0 646.0L1137.0 646.2L1140.0 646.7L1143.0 647.4L1146.0 648.2L1149.0 649.0L1152.0 649.6L1155.0 650.3L1158.0 650.9L1161.0 651.5L1164.0 652.0L1167.0 652.5L1170.0 653.1L1173.0 653.6L1176.0 654.0L1179.0 654.4L1182.0 654.6L1185.0 654.8L1188.0 654.8L1191.0 654.8L1194.0 654.8L1197.0 654.8L1200.0 654.8L1203.0 654.8L1206.0 654.8L1209.0 654.8L1212.0 654.8L1215.0 654.8L1218.0 654.8L1221.0 654.8L1224.0 654.8L1227.0 654.8L1230.0 654.8L1233.0 654.8L1236.0 654.8L1236.0 671.3L1239.0 671.3L1242.0 671.3L1245.0 671.2L1247.9 671.1L1250.9 671.1L1253.9 671.0L1256.9 670.9L1259.9 670.8L1262.9 670.7L1265.9 670.5L1268.8 670.4L1271.8 670.2L1274.8 670.0L1277.8 669.7L1280.8 669.4L1283.8 669.0L1286.8 668.7L1289.8 668.3L1292.7 667.9L1295.7 667.5L1298.7 667.1L1301.7 666.6L1304.7 666.0L1307.7 665.5L1310.7 664.9L1313.6 664.4L1316.6 663.9L1319.6 663.4L1322.6 662.9L1325.6 662.4L1328.6 661.9L1331.6 661.4L1334.5 660.9L1337.5 660.5L1340.5 660.0L1343.5 659.5L1346.5 659.1L1349.5 658.7L1352.5 658.3L1355.4 658.0L1358.4 657.7L1361.4 657.4L1364.4 657.1L1367.4 656.8L1370.4 656.5L1373.4 656.3L1376.3 656.0L1379.3 655.8L1382.3 655.6L1385.3 655.4L1388.3 655.2L1391.3 655.1L1394.3 654.9L1397.2 654.8L1400.2 654.8L1403.2 654.8L1406.2 654.7L1409.2 654.7L1412.2 654.7L1415.2 654.7L1418.2 654.6L1421.1 654.6L1424.1 654.6L1427.1 654.6L1430.1 654.6L1433.1 654.5L1436.1 654.5L1439.1 654.5L1442.0 654.5L1445.0 654.5L1448.0 654.5L1451.0 654.5"/>
<path d="M63.0 778.0L66.0 777.9L69.0 777.7L72.0 777.5L75.0 777.2L78.0 776.8L81.0 776.5L84.0 776.1L87.0 775.7L90.0 775.2L93.0 774.6L96.0 773.9L99.0 773.1L102.0 772.3L105.0 771.4L108.0 770.3L111.0 769.0L114.0 767.6L117.0 766.1L120.0 764.4L123.0 762.7L126.0 760.7L129.0 758.5L132.0 756.2L135.0 753.7L138.0 751.3L141.0 748.8L144.0 746.5L147.0 744.3L150.0 742.0L153.0 739.8L156.0 737.6L159.0 735.3L162.0 733.1L165.0 730.9L168.0 728.7L171.0 726.6L174.0 724.4L177.0 722.2L180.0 720.0L183.0 717.9L186.0 715.8L189.0 713.9L192.0 712.1L195.0 710.5L198.0 708.9L201.0 707.4L204.0 706.0L207.0 704.6L210.0 703.3L213.0 701.9L216.0 700.6L219.0 699.3L222.0 698.0L225.0 696.8L228.0 695.7L231.0 694.8L234.0 694.0L237.0 693.1L240.0 692.4L243.0 691.8L246.0 691.4L249.0 691.2L252.0 691.0L255.0 690.9L258.0 690.8L261.0 690.8L264.0 690.8L267.0 690.8L270.0 690.8L273.0 690.8L276.0 690.8L279.0 690.8L282.0 690.8L285.0 690.8L288.0 690.8L291.0 690.8L294.0 690.8L297.0 690.8L300.0 690.8L303.0 690.8L306.0 690.8L309.0 690.8L312.0 690.9L315.0 690.9L318.0 691.0L321.0 691.0L324.0 691.1L327.0 691.2L330.0 691.3L333.0 691.4L336.0 691.5L339.0 691.6L342.0 691.7L345.0 691.8L348.0 691.9L351.0 692.0L354.0 692.1L357.0 692.2L360.0 692.4L363.0 692.6L366.0 692.7L369.0 692.9L372.0 693.1L375.0 693.3L378.0 693.5L381.0 693.7L384.0 693.9L387.0 694.1L390.0 694.3L393.0 694.5L396.0 694.8L399.0 695.0L402.0 695.2L405.0 695.5L408.0 695.7L411.0 696.0L414.0 696.2L417.0 696.4L420.0 696.6L423.0 696.7L426.0 696.8L429.0 696.9L432.0 696.9L435.0 697.0L438.0 697.0L438.0 787.9L441.0 787.8L444.0 787.6L447.0 787.3L450.0 787.0L453.0 786.7L456.0 786.3L459.0 785.8L462.0 785.3L465.0 784.6L468.0 783.9L471.0 783.0L474.0 781.8L477.0 780.4L480.0 778.9L483.0 777.3L486.0 775.7L489.0 774.1L492.0 772.4L495.0 770.7L498.0 768.9L501.0 767.0L504.0 765.1L507.0 763.2L510.0 761.1L513.0 759.0L516.0 756.8L519.0 754.5L522.0 752.1L525.0 749.8L528.0 747.6L531.0 745.4L534.0 743.3L537.0 741.3L540.0 739.2L543.0 737.2L546.0 735.3L549.0 733.3L552.0 731.4L555.0 729.6L558.0 727.7L561.0 725.9L564.0 724.2L567.0 722.4L570.0 720.7L573.0 719.1L576.0 717.4L579.0 715.8L582.0 714.2L585.0 712.6L588.0 711.1L591.0 709.5L594.0 708.0L597.0 706.6L600.0 705.2L603.0 703.8L606.0 702.5L609.0 701.2L612.0 699.9L615.0 698.7L618.0 697.6L621.0 696.5L624.0 695.6L627.0 694.7L630.0 693.8L633.0 693.0L636.0 692.4L639.0 692.0L642.0 691.6L645.0 691.3L648.0 691.0L651.0 690.9L654.0 690.8L657.0 690.8L660.0 690.9L663.0 691.0L666.0 691.1L669.0 691.2L672.0 691.4L675.0 691.8L678.0 692.3L681.0 693.1L684.0 693.9L687.0 694.7L690.0 695.5L693.0 696.2L696.0 697.0L699.0 697.7L702.0 698.5L705.0 699.3L708.0 700.1L711.0 700.9L714.0 701.8L717.0 702.6L720.0 703.5L723.0 704.4L726.0 705.4L729.0 706.3L732.0 707.1L735.0 708.0L738.0 708.8L741.0 709.7L744.0 710.5L747.0 711.3L750.0 712.1L753.0 712.8L756.0 713.5L759.0 714.1L762.0 714.8L765.0 715.4L768.0 715.9L771.0 716.4L774.0 716.9L777.0 717.2L780.0 717.5L783.0 717.7L786.0 718.0L789.0 718.2L792.0 718.4L795.0 718.6L798.0 718.7L801.0 718.8L804.0 718.8L804.0 786.8L807.0 786.8L810.0 786.6L813.0 786.5L816.0 786.2L819.0 786.0L822.0 785.7L825.0 785.2L828.0 784.6L831.0 783.9L834.0 783.1L837.0 782.2L840.0 781.1L843.0 779.8L846.0 778.4L849.0 776.9L852.0 775.4L855.0 773.9L858.0 772.2L861.0 770.5L864.0 768.7L867.0 766.8L870.0 764.7L873.0 762.5L876.0 760.2L879.0 757.8L882.0 755.3L885.0 752.9L888.0 750.5L891.0 748.2L894.0 746.0L897.0 743.7L900.0 741.4L903.0 739.2L906.0 736.9L909.0 734.7L912.0 732.5L915.0 730.4L918.0 728.2L921.0 726.0L924.0 723.9L927.0 721.9L930.0 719.9L933.0 718.1L936.0 716.3L939.0 714.6L942.0 713.0L945.0 711.3L948.0 709.8L951.0 708.2L954.0 706.6L957.0 705.0L960.0 703.4L963.0 702.0L966.0 700.7L969.0 699.5L972.0 698.4L975.0 697.3L978.0 696.4L981.0 695.6L984.0 694.8L987.0 694.1L990.0 693.3L993.0 692.7L996.0 692.1L999.0 691.7L1002.0 691.4L1005.0 691.2L1008.0 691.1L1011.0 691.0L1014.0 690.9L1017.0 690.8L1020.0 690.8L1023.0 690.8L1026.0 690.8L1029.0 690.9L1032.0 690.9L1035.0 691.0L1038.0 691.1L1041.0 691.1L1044.0 691.2L1047.0 691.3L1050.0 691.5L1053.0 691.7L1056.0 692.0L1059.0 692.4L1062.0 692.8L1065.0 693.2L1068.0 693.7L1071.0 694.2L1074.0 694.6L1077.0 695.1L1080.0 695.6L1083.0 696.2L1086.0 696.8L1089.0 697.5L1092.0 698.1L1095.0 698.9L1098.0 699.6L1101.0 700.3L1104.0 701.0L1107.0 701.8L1110.0 702.5L1113.0 703.3L1116.0 704.0L1119.0 704.8L1122.0 705.6L1125.0 706.4L1128.0 707.2L1131.0 708.0L1134.0 708.8L1137.0 709.6L1140.0 710.4L1143.0 711.1L1146.0 711.9L1149.0 712.7L1152.0 713.5L1155.0 714.2L1158.0 715.0L1161.0 715.7L1164.0 716.3L1167.0 717.0L1170.0 717.6L1173.0 718.2L1176.0 718.8L1179.0 719.4L1182.0 719.9L1185.0 720.4L1188.0 720.9L1191.0 721.4L1194.0 721.8L1197.0 722.3L1200.0 722.7L1203.0 723.1L1206.0 723.5L1209.0 723.7L1212.0 723.9L1215.0 724.1L1218.0 724.2L1221.0 724.4L1224.0 724.5L1227.0 724.6L1230.0 724.6L1233.0 724.7L1236.0 724.7L1236.0 777.5L1239.0 777.4L1242.0 777.3L1245.0 777.2L1247.9 777.0L1250.9 776.8L1253.9 776.6L1256.9 776.3L1259.9 776.1L1262.9 775.8L1265.9 775.5L1268.8 775.2L1271.8 774.8L1274.8 774.4L1277.8 773.9L1280.8 773.4L1283.8 772.8L1286.8 772.2L1289.8 771.4L1292.7 770.4L1295.7 769.1L1298.7 767.7L1301.7 766.1L1304.7 764.4L1307.7 762.7L1310.7 761.1L1313.6 759.2L1316.6 757.3L1319.6 755.2L1322.6 753.1L1325.6 751.0L1328.6 748.8L1331.6 746.7L1334.5 744.5L1337.5 742.2L1340.5 740.0L1343.5 737.7L1346.5 735.4L1349.5 733.2L1352.5 731.0L1355.4 728.8L1358.4 726.6L1361.4 724.5L1364.4 722.4L1367.4 720.3L1370.4 718.4L1373.4 716.5L1376.3 714.7L1379.3 712.9L1382.3 711.1L1385.3 709.4L1388.3 707.8L1391.3 706.3L1394.3 704.9L1397.2 703.6L1400.2 702.3L1403.2 701.1L1406.2 699.9L1409.2 698.8L1412.2 697.8L1415.2 696.9L1418.2 696.1L1421.1 695.4L1424.1 694.6L1427.1 694.0L1430.1 693.4L1433.1 692.9L1436.1 692.5L1439.1 692.2L1442.0 691.9L1445.0 691.6L1448.0 691.4L1451.0 691.3"/>
<path d="M63.0 826.0L66.0 825.9L69.0 825.5L72.0 825.0L75.0 824.5L78.0 823.6L81.0 822.5L84.0 821.1L87.0 819.8L90.0 818.5L93.0 817.3L96.0 816.1L99.0 814.8L102.0 813.7L105.0 812.5L108.0 811.5L111.0 810.6L114.0 809.7L117.0 808.9L120.0 808.1L123.0 807.4L126.0 806.7L129.0 806.2L132.0 805.7L135.0 805.2L138.0 805.0L141.0 805.0L144.0 805.0L147.0 805.0L150.0 805.0L153.0 805.0L156.0 805.0L159.0 805.0L162.0 805.1L165.0 805.1L168.0 805.1L171.0 805.1L174.0 805.1L177.0 805.2L180.0 805.2L183.0 805.2L186.0 805.3L189.0 805.4L192.0 805.6L195.0 805.8L198.0 806.0L201.0 806.3L204.0 806.5L207.0 806.8L210.0 807.0L213.0 807.2L216.0 807.3L219.0 807.5L222.0 807.6L225.0 807.7L228.0 807.9L231.0 808.0L234.0 808.1L237.0 808.2L240.0 808.3L243.0 808.4L246.0 808.5L249.0 808.6L252.0 808.6L255.0 808.7L258.0 808.7L261.0 808.7L264.0 808.7L267.0 808.7L270.0 808.7L273.0 808.7L276.0 808.7L279.0 808.7L282.0 808.7L285.0 808.7L288.0 808.7L291.0 808.7L294.0 808.8L297.0 808.9L300.0 809.0L303.0 809.2L306.0 809.4L309.0 809.6L312.0 809.9L315.0 810.1L318.0 810.3L321.0 810.5L324.0 810.6L327.0 810.7L330.0 810.8L333.0 810.8L336.0 810.9L339.0 810.9L342.0 810.9L345.0 810.9L348.0 811.0L351.0 811.0L354.0 811.0L357.0 811.0L360.0 811.0L363.0 811.1L366.0 811.1L369.0 811.1L372.0 811.1L375.0 811.1L378.0 811.2L381.0 811.2L384.0 811.2L387.0 811.2L390.0 811.2L393.0 811.2L396.0 811.2L399.0 811.2L402.0 811.2L405.0 811.3L408.0 811.3L411.0 811.3L414.0 811.3L417.0 811.3L420.0 811.3L423.0 811.3L426.0 811.3L429.0 811.3L432.0 811.3L435.0 811.3L438.0 811.3L438.0 821.5L441.0 821.2L444.0 820.9L447.0 820.6L450.0 820.2L453.0 819.7L456.0 819.2L459.0 818.6L462.0 817.9L465.0 817.1L468.0 816.4L471.0 815.6L474.0 814.9L477.0 814.3L480.0 813.8L483.0 813.3L486.0 812.8L489.0 812.3L492.0 811.9L495.0 811.5L498.0 811.1L501.0 810.7L504.0 810.4L507.0 810.1L510.0 809.8L513.0 809.5L516.0 809.3L519.0 809.0L522.0 808.8L525.0 808.5L528.0 808.3L531.0 808.1L534.0 808.0L537.0 807.9L540.0 807.9L543.0 807.9L546.0 807.9L549.0 807.9L552.0 807.9L555.0 807.9L558.0 807.9L561.0 807.9L564.0 807.9L567.0 807.9L570.0 807.9L573.0 807.9L576.0 807.9L579.0 807.9L582.0 807.9L585.0 807.9L588.0 807.9L591.0 807.9L594.0 807.9L597.0 807.9L600.0 807.9L603.0 807.9L606.0 807.9L609.0 807.9L612.0 807.9L615.0 807.9L618.0 807.9L621.0 807.9L624.0 807.9L627.0 808.0L630.0 808.1L633.0 808.2L636.0 808.3L639.0 808.4L642.0 808.5L645.0 808.6L648.0 808.6L651.0 808.7L654.0 808.7L657.0 808.7L660.0 808.7L663.0 808.7L666.0 808.7L669.0 808.7L672.0 808.7L675.0 808.7L678.0 808.7L681.0 808.7L684.0 808.7L687.0 808.7L690.0 808.5L693.0 808.1L696.0 807.6L699.0 807.3L702.0 807.3L705.0 807.3L708.0 807.3L711.0 807.3L714.0 807.3L717.0 807.3L720.0 807.3L723.0 807.3L726.0 807.3L729.0 807.3L732.0 807.4L735.0 807.5L738.0 807.7L741.0 807.9L744.0 808.2L747.0 808.4L750.0 808.7L753.0 809.0L756.0 809.3L759.0 809.5L762.0 809.7L765.0 809.9L768.0 810.1L771.0 810.2L774.0 810.3L777.0 810.5L780.0 810.6L783.0 810.7L786.0 810.8L789.0 810.9L792.0 811.0L795.0 811.1L798.0 811.2L801.0 811.2L804.0 811.3L804.0 821.5L807.0 821.5L810.0 821.5L813.0 821.5L816.0 821.5L819.0 821.5L822.0 821.5L825.0 821.5L828.0 821.5L831.0 821.5L834.0 821.5L837.0 821.5L840.0 821.5L843.0 821.5L846.0 821.4L849.0 821.0L852.0 820.5L855.0 819.9L858.0 819.2L861.0 818.5L864.0 817.8L867.0 817.2L870.0 816.7L873.0 816.3L876.0 815.8L879.0 815.4L882.0 815.0L885.0 814.6L888.0 814.2L891.0 813.9L894.0 813.5L897.0 813.2L900.0 812.8L903.0 812.5L906.0 812.2L909.0 812.0L912.0 811.7L915.0 811.5L918.0 811.2L921.0 811.0L924.0 810.7L927.0 810.5L930.0 810.2L933.0 810.0L936.0 809.8L939.0 809.6L942.0 809.4L945.0 809.2L948.0 809.1L951.0 808.9L954.0 808.8L957.0 808.8L960.0 808.7L963.0 808.7L966.0 808.7L969.0 808.7L972.0 808.7L975.0 808.7L978.0 808.7L981.0 808.7L984.0 808.7L987.0 808.7L990.0 808.7L993.0 808.7L996.0 808.7L999.0 808.7L1002.0 808.7L1005.0 808.7L1008.0 808.7L1011.0 808.7L1014.0 808.7L1017.0 808.7L1020.0 808.7L1023.0 808.7L1026.0 808.7L1029.0 808.7L1032.0 808.7L1035.0 808.6L1038.0 808.4L1041.0 808.2L1044.0 808.0L1047.0 807.7L1050.0 807.4L1053.0 807.1L1056.0 806.9L1059.0 806.6L1062.0 806.3L1065.0 806.0L1068.0 805.7L1071.0 805.4L1074.0 805.1L1077.0 804.8L1080.0 804.5L1083.0 804.1L1086.0 803.8L1089.0 803.5L1092.0 803.2L1095.0 802.9L1098.0 802.5L1101.0 802.1L1104.0 801.7L1107.0 801.4L1110.0 801.1L1113.0 800.9L1116.0 800.7L1119.0 800.7L1122.0 800.7L1125.0 800.7L1128.0 800.7L1131.0 800.7L1134.0 800.7L1137.0 800.7L1140.0 800.7L1143.0 800.7L1146.0 800.7L1149.0 800.7L1152.0 800.7L1155.0 800.7L1158.0 800.7L1161.0 800.7L1164.0 800.7L1167.0 800.8L1170.0 801.1L1173.0 801.4L1176.0 801.8L1179.0 802.3L1182.0 802.7L1185.0 803.1L1188.0 803.4L1191.0 803.8L1194.0 804.2L1197.0 804.6L1200.0 805.0L1203.0 805.4L1206.0 805.7L1209.0 805.9L1212.0 806.0L1215.0 806.0L1218.0 806.0L1221.0 806.0L1224.0 806.0L1227.0 806.0L1230.0 806.0L1233.0 806.0L1236.0 806.0L1236.0 815.0L1239.0 814.7L1242.0 814.4L1245.0 814.0L1247.9 813.6L1250.9 813.1L1253.9 812.5L1256.9 811.9L1259.9 811.1L1262.9 810.2L1265.9 809.2L1268.8 808.2L1271.8 807.2L1274.8 806.3L1277.8 805.3L1280.8 804.5L1283.8 803.6L1286.8 802.7L1289.8 801.8L1292.7 801.0L1295.7 800.4L1298.7 799.9L1301.7 799.6L1304.7 799.2L1307.7 798.9L1310.7 798.7L1313.6 798.5L1316.6 798.4L1319.6 798.3L1322.6 798.4L1325.6 798.6L1328.6 798.9L1331.6 799.3L1334.5 799.7L1337.5 800.1L1340.5 800.4L1343.5 800.8L1346.5 801.1L1349.5 801.4L1352.5 801.8L1355.4 802.1L1358.4 802.5L1361.4 802.8L1364.4 803.1L1367.4 803.4L1370.4 803.7L1373.4 804.0L1376.3 804.3L1379.3 804.6L1382.3 804.9L1385.3 805.1L1388.3 805.4L1391.3 805.7L1394.3 805.9L1397.2 806.2L1400.2 806.4L1403.2 806.6L1406.2 806.8L1409.2 807.1L1412.2 807.2L1415.2 807.4L1418.2 807.6L1421.1 807.8L1424.1 808.0L1427.1 808.1L1430.1 808.3L1433.1 808.4L1436.1 808.6L1439.1 808.7L1442.0 808.9L1445.0 809.0L1448.0 809.1L1451.0 809.2"/>
<path d="M63.0 835.9L66.0 835.9L69.0 835.9L72.0 835.9L75.0 835.9L78.0 835.9L81.0 835.9L84.0 835.9L87.0 835.9L90.0 835.9L93.0 835.9L96.0 835.9L99.0 835.9L102.0 835.9L105.0 835.9L108.0 835.8L111.0 835.6L114.0 835.4L117.0 835.1L120.0 834.8L123.0 834.4L126.0 834.0L129.0 833.6L132.0 833.2L135.0 832.9L138.0 832.5L141.0 832.2L144.0 831.9L147.0 831.6L150.0 831.4L153.0 831.1L156.0 830.8L159.0 830.6L162.0 830.3L165.0 830.1L168.0 829.8L171.0 829.6L174.0 829.3L177.0 829.1L180.0 828.9L183.0 828.7L186.0 828.5L189.0 828.3L192.0 828.1L195.0 827.9L198.0 827.8L201.0 827.6L204.0 827.4L207.0 827.3L210.0 827.1L213.0 827.0L216.0 826.8L219.0 826.7L222.0 826.5L225.0 826.4L228.0 826.3L231.0 826.2L234.0 826.1L237.0 826.0L240.0 825.9L243.0 825.8L246.0 825.7L249.0 825.6L252.0 825.5L255.0 825.4L258.0 825.2L261.0 825.1L264.0 825.0L267.0 824.9L270.0 824.8L273.0 824.7L276.0 824.5L279.0 824.4L282.0 824.3L285.0 824.2L288.0 824.1L291.0 823.9L294.0 823.8L297.0 823.6L300.0 823.5L303.0 823.3L306.0 823.1L309.0 822.9L312.0 822.7L315.0 822.4L318.0 822.2L321.0 821.9L324.0 821.6L327.0 821.4L330.0 821.1L333.0 820.8L336.0 820.5L339.0 820.2L342.0 820.0L345.0 819.7L348.0 819.5L351.0 819.2L354.0 819.0L357.0 818.7L360.0 818.5L363.0 818.2L366.0 818.0L369.0 817.7L372.0 817.5L375.0 817.3L378.0 817.0L381.0 816.8L384.0 816.6L387.0 816.4L390.0 816.2L393.0 816.0L396.0 815.8L399.0 815.6L402.0 815.3L405.0 815.1L408.0 815.0L411.0 814.8L414.0 814.7L417.0 814.6L420.0 814.5L423.0 814.5L426.0 814.5L429.0 814.5L432.0 814.5L435.0 814.5L438.0 814.5L438.0 827.9L441.0 828.0L444.0 828.1L447.0 828.2L450.0 828.3L453.0 828.4L456.0 828.5L459.0 828.5L462.0 828.6L465.0 828.6L468.0 828.7L471.0 828.7L474.0 828.7L477.0 828.7L480.0 828.7L483.0 828.7L486.0 828.7L489.0 828.7L492.0 828.7L495.0 828.7L498.0 828.7L501.0 828.7L504.0 828.7L507.0 828.6L510.0 828.5L513.0 828.4L516.0 828.3L519.0 828.2L522.0 828.0L525.0 827.9L528.0 827.8L531.0 827.6L534.0 827.5L537.0 827.4L540.0 827.3L543.0 827.2L546.0 827.2L549.0 827.1L552.0 827.0L555.0 827.0L558.0 826.9L561.0 826.9L564.0 826.8L567.0 826.8L570.0 826.7L573.0 826.7L576.0 826.6L579.0 826.5L582.0 826.4L585.0 826.3L588.0 826.2L591.0 826.1L594.0 826.0L597.0 825.9L600.0 825.7L603.0 825.6L606.0 825.5L609.0 825.4L612.0 825.3L615.0 825.2L618.0 825.2L621.0 825.2L624.0 825.2L627.0 825.2L630.0 825.2L633.0 825.2L636.0 825.2L639.0 825.2L642.0 825.2L645.0 825.2L648.0 825.2L651.0 825.2L654.0 825.2L657.0 825.2L660.0 825.2L663.0 825.2L666.0 825.2L669.0 825.2L672.0 825.2L675.0 825.2L678.0 825.2L681.0 825.2L684.0 825.2L687.0 825.2L690.0 825.3L693.0 825.6L696.0 825.8L699.0 826.0L702.0 826.0L705.0 826.0L708.0 826.0L711.0 826.0L714.0 826.0L717.0 826.0L720.0 826.0L723.0 826.0L726.0 826.0L729.0 826.0L732.0 826.0L735.0 826.0L738.0 826.0L741.0 826.0L744.0 826.0L747.0 826.0L750.0 825.9L753.0 825.9L756.0 825.9L759.0 825.9L762.0 825.9L765.0 825.9L768.0 825.9L771.0 825.8L774.0 825.8L777.0 825.8L780.0 825.8L783.0 825.7L786.0 825.7L789.0 825.7L792.0 825.7L795.0 825.6L798.0 825.6L801.0 825.5L804.0 825.5L804.0 834.8L807.0 834.4L810.0 833.9L813.0 833.5L816.0 832.9L819.0 832.4L822.0 831.8L825.0 831.2L828.0 830.5L831.0 829.6L834.0 828.6L837.0 827.6L840.0 826.7L843.0 825.8L846.0 825.2L849.0 824.8L852.0 824.7L855.0 824.7L858.0 824.7L861.0 824.7L864.0 824.7L867.0 824.7L870.0 824.7L873.0 824.7L876.0 824.7L879.0 824.7L882.0 824.7L885.0 824.7L888.0 824.7L891.0 824.7L894.0 824.7L897.0 824.7L900.0 824.7L903.0 824.7L906.0 824.7L909.0 824.7L912.0 824.7L915.0 824.7L918.0 824.7L921.0 825.2L924.0 825.5L927.0 825.5L930.0 825.5L933.0 825.5L936.0 825.5L939.0 825.5L942.0 825.5L945.0 825.5L948.0 825.5L951.0 825.5L954.0 825.5L957.0 825.5L960.0 825.5L963.0 825.5L966.0 825.5L969.0 825.5L972.0 825.5L975.0 825.5L978.0 825.5L981.0 825.5L984.0 825.5L987.0 825.5L990.0 825.5L993.0 825.5L996.0 825.5L999.0 825.5L1002.0 825.5L1005.0 825.5L1008.0 825.5L1011.0 825.5L1014.0 825.5L1017.0 825.5L1020.0 825.5L1023.0 825.5L1026.0 825.5L1029.0 825.5L1032.0 825.5L1035.0 825.5L1038.0 825.6L1041.0 825.7L1044.0 825.8L1047.0 825.9L1050.0 826.1L1053.0 826.3L1056.0 826.4L1059.0 826.6L1062.0 826.8L1065.0 827.0L1068.0 827.2L1071.0 827.4L1074.0 827.6L1077.0 827.8L1080.0 828.1L1083.0 828.4L1086.0 828.7L1089.0 829.0L1092.0 829.3L1095.0 829.6L1098.0 830.0L1101.0 830.3L1104.0 830.6L1107.0 831.0L1110.0 831.3L1113.0 831.6L1116.0 831.9L1119.0 832.3L1122.0 832.6L1125.0 832.9L1128.0 833.3L1131.0 833.6L1134.0 833.9L1137.0 834.3L1140.0 834.6L1143.0 835.0L1146.0 835.4L1149.0 835.8L1152.0 836.2L1155.0 836.6L1158.0 837.0L1161.0 837.5L1164.0 838.0L1167.0 838.4L1170.0 838.9L1173.0 839.4L1176.0 839.9L1179.0 840.4L1182.0 840.8L1185.0 841.3L1188.0 841.7L1191.0 842.1L1194.0 842.6L1197.0 843.0L1200.0 843.3L1203.0 843.6L1206.0 843.9L1209.0 844.2L1212.0 844.4L1215.0 844.6L1218.0 844.7L1221.0 844.7L1224.0 844.8L1227.0 844.8L1230.0 844.9L1233.0 844.9L1236.0 844.9L1236.0 833.6L1239.0 833.7L1242.0 833.7L1245.0 833.8L1247.9 833.8L1250.9 833.8L1253.9 833.9L1256.9 833.9L1259.9 833.9L1262.9 833.9L1265.9 834.0L1268.8 834.0L1271.8 834.0L1274.8 834.0L1277.8 834.0L1280.8 834.0L1283.8 834.0L1286.8 834.0L1289.8 834.0L1292.7 834.0L1295.7 834.0L1298.7 833.9L1301.7 833.7L1304.7 833.5L1307.7 833.3L1310.7 833.0L1313.6 832.8L1316.6 832.5L1319.6 832.2L1322.6 831.9L1325.6 831.6L1328.6 831.3L1331.6 831.1L1334.5 830.9L1337.5 830.7L1340.5 830.5L1343.5 830.4L1346.5 830.2L1349.5 830.0L1352.5 829.8L1355.4 829.7L1358.4 829.5L1361.4 829.3L1364.4 829.2L1367.4 829.0L1370.4 828.8L1373.4 828.7L1376.3 828.5L1379.3 828.3L1382.3 828.2L1385.3 828.0L1388.3 827.8L1391.3 827.6L1394.3 827.5L1397.2 827.3L1400.2 827.1L1403.2 827.0L1406.2 826.8L1409.2 826.7L1412.2 826.5L1415.2 826.4L1418.2 826.3L1421.1 826.1L1424.1 826.0L1427.1 825.9L1430.1 825.8L1433.1 825.6L1436.1 825.5L1439.1 825.4L1442.0 825.3L1445.0 825.2L1448.0 825.1L1451.0 825.0"/>
<path d="M63.0 912.7L66.0 912.7L69.0 912.7L72.0 912.7L75.0 912.7L78.0 912.7L81.0 912.7L84.0 912.7L87.0 912.7L90.0 912.7L93.0 912.8L96.0 912.9L99.0 913.2L102.0 913.5L105.0 913.9L108.0 914.3L111.0 914.8L114.0 915.3L117.0 915.8L120.0 916.3L123.0 916.9L126.0 917.4L129.0 917.8L132.0 918.3L135.0 918.8L138.0 919.3L141.0 919.8L144.0 920.3L147.0 920.8L150.0 921.4L153.0 921.9L156.0 922.4L159.0 922.9L162.0 923.4L165.0 923.9L168.0 924.4L171.0 924.8L174.0 925.3L177.0 925.7L180.0 926.2L183.0 926.6L186.0 927.0L189.0 927.4L192.0 927.8L195.0 928.2L198.0 928.6L201.0 929.0L204.0 929.3L207.0 929.7L210.0 930.0L213.0 930.3L216.0 930.7L219.0 931.0L222.0 931.3L225.0 931.7L228.0 932.0L231.0 932.2L234.0 932.4L237.0 932.6L240.0 932.7L243.0 932.7L246.0 932.7L249.0 932.7L252.0 932.6L255.0 932.6L258.0 932.5L261.0 932.5L264.0 932.4L267.0 932.3L270.0 932.2L273.0 932.1L276.0 932.0L279.0 931.9L282.0 931.7L285.0 931.5L288.0 931.2L291.0 930.9L294.0 930.5L297.0 930.1L300.0 929.7L303.0 929.2L306.0 928.8L309.0 928.4L312.0 927.9L315.0 927.5L318.0 927.1L321.0 926.7L324.0 926.3L327.0 925.8L330.0 925.4L333.0 924.9L336.0 924.5L339.0 924.0L342.0 923.5L345.0 923.1L348.0 922.6L351.0 922.2L354.0 921.8L357.0 921.5L360.0 921.1L363.0 920.8L366.0 920.4L369.0 920.0L372.0 919.7L375.0 919.4L378.0 919.1L381.0 918.7L384.0 918.5L387.0 918.2L390.0 917.9L393.0 917.7L396.0 917.5L399.0 917.4L402.0 917.2L405.0 917.0L408.0 916.9L411.0 916.7L414.0 916.6L417.0 916.5L420.0 916.3L423.0 916.2L426.0 916.1L429.0 916.1L432.0 916.0L435.0 915.9L438.0 915.9L438.0 920.7L441.0 919.9L444.0 919.2L447.0 918.4L450.0 917.8L453.0 917.3L456.0 916.9L459.0 916.7L462.0 916.7L465.0 916.7L468.0 916.7L471.0 916.7L474.0 916.7L477.0 916.7L480.0 916.7L483.0 916.7L486.0 916.7L489.0 916.7L492.0 916.7L495.0 916.8L498.0 917.0L501.0 917.3L504.0 917.7L507.0 918.1L510.0 918.6L513.0 919.2L516.0 919.7L519.0 920.3L522.0 920.8L525.0 921.3L528.0 921.7L531.0 922.1L534.0 922.5L537.0 923.0L540.0 923.4L543.0 923.8L546.0 924.3L549.0 924.7L552.0 925.2L555.0 925.6L558.0 926.0L561.0 926.4L564.0 926.8L567.0 927.2L570.0 927.6L573.0 927.9L576.0 928.3L579.0 928.6L582.0 928.9L585.0 929.2L588.0 929.5L591.0 929.8L594.0 930.1L597.0 930.4L600.0 930.6L603.0 930.9L606.0 931.1L609.0 931.3L612.0 931.5L615.0 931.7L618.0 931.8L621.0 931.9L624.0 932.0L627.0 932.1L630.0 932.2L633.0 932.3L636.0 932.4L639.0 932.5L642.0 932.6L645.0 932.6L648.0 932.7L651.0 932.7L654.0 932.7L657.0 932.7L660.0 932.7L663.0 932.7L666.0 932.7L669.0 932.7L672.0 932.7L675.0 932.7L678.0 932.7L681.0 932.6L684.0 932.5L687.0 932.4L690.0 932.2L693.0 932.1L696.0 931.9L699.0 931.7L702.0 931.4L705.0 931.2L708.0 931.1L711.0 930.9L714.0 930.8L717.0 930.6L720.0 930.5L723.0 930.4L726.0 930.2L729.0 930.1L732.0 930.0L735.0 929.8L738.0 929.7L741.0 929.6L744.0 929.5L747.0 929.4L750.0 929.2L753.0 929.1L756.0 929.0L759.0 928.9L762.0 928.8L765.0 928.7L768.0 928.7L771.0 928.6L774.0 928.5L777.0 928.4L780.0 928.4L783.0 928.3L786.0 928.2L789.0 928.2L792.0 928.1L795.0 928.0L798.0 928.0L801.0 927.9L804.0 927.9L804.0 914.0L807.0 914.2L810.0 914.4L813.0 914.6L816.0 914.9L819.0 915.1L822.0 915.3L825.0 915.6L828.0 915.8L831.0 916.1L834.0 916.3L837.0 916.6L840.0 916.9L843.0 917.2L846.0 917.5L849.0 917.8L852.0 918.1L855.0 918.4L858.0 918.7L861.0 919.0L864.0 919.3L867.0 919.6L870.0 919.9L873.0 920.2L876.0 920.5L879.0 920.8L882.0 921.1L885.0 921.4L888.0 921.7L891.0 922.0L894.0 922.3L897.0 922.6L900.0 922.9L903.0 923.2L906.0 923.5L909.0 923.9L912.0 924.2L915.0 924.6L918.0 925.0L921.0 925.4L924.0 925.9L927.0 926.3L930.0 926.7L933.0 927.1L936.0 927.6L939.0 928.0L942.0 928.3L945.0 928.7L948.0 929.0L951.0 929.3L954.0 929.6L957.0 929.8L960.0 930.1L963.0 930.3L966.0 930.6L969.0 930.8L972.0 931.0L975.0 931.2L978.0 931.4L981.0 931.6L984.0 931.8L987.0 931.9L990.0 932.0L993.0 932.1L996.0 932.2L999.0 932.3L1002.0 932.4L1005.0 932.5L1008.0 932.5L1011.0 932.6L1014.0 932.6L1017.0 932.7L1020.0 932.7L1023.0 932.7L1026.0 932.6L1029.0 932.5L1032.0 932.4L1035.0 932.3L1038.0 932.1L1041.0 932.0L1044.0 931.8L1047.0 931.6L1050.0 931.3L1053.0 931.1L1056.0 930.8L1059.0 930.4L1062.0 930.1L1065.0 929.7L1068.0 929.3L1071.0 928.9L1074.0 928.5L1077.0 928.1L1080.0 927.7L1083.0 927.3L1086.0 926.9L1089.0 926.4L1092.0 926.0L1095.0 925.5L1098.0 925.0L1101.0 924.5L1104.0 924.0L1107.0 923.5L1110.0 922.9L1113.0 922.4L1116.0 921.9L1119.0 921.4L1122.0 920.9L1125.0 920.4L1128.0 919.9L1131.0 919.3L1134.0 918.8L1137.0 918.3L1140.0 917.8L1143.0 917.2L1146.0 916.7L1149.0 916.2L1152.0 915.7L1155.0 915.2L1158.0 914.7L1161.0 914.3L1164.0 913.9L1167.0 913.4L1170.0 913.0L1173.0 912.5L1176.0 912.1L1179.0 911.7L1182.0 911.3L1185.0 910.9L1188.0 910.6L1191.0 910.3L1194.0 910.1L1197.0 909.8L1200.0 909.6L1203.0 909.4L1206.0 909.2L1209.0 909.0L1212.0 908.8L1215.0 908.6L1218.0 908.5L1221.0 908.3L1224.0 908.2L1227.0 908.1L1230.0 908.0L1233.0 907.9L1236.0 907.9L1236.0 924.7L1239.0 924.6L1242.0 924.6L1245.0 924.4L1247.9 924.3L1250.9 924.1L1253.9 923.9L1256.9 923.6L1259.9 923.2L1262.9 922.8L1265.9 922.4L1268.8 922.1L1271.8 922.0L1274.8 922.0L1277.8 922.0L1280.8 922.0L1283.8 922.0L1286.8 922.0L1289.8 922.0L1292.7 922.0L1295.7 922.0L1298.7 922.0L1301.7 922.0L1304.7 922.0L1307.7 922.0L1310.7 922.0L1313.6 922.1L1316.6 922.3L1319.6 922.4L1322.6 922.6L1325.6 922.8L1328.6 923.0L1331.6 923.2L1334.5 923.4L1337.5 923.6L1340.5 923.9L1343.5 924.2L1346.5 924.5L1349.5 924.8L1352.5 925.1L1355.4 925.4L1358.4 925.8L1361.4 926.1L1364.4 926.4L1367.4 926.7L1370.4 927.0L1373.4 927.3L1376.3 927.6L1379.3 927.9L1382.3 928.2L1385.3 928.5L1388.3 928.8L1391.3 929.0L1394.3 929.3L1397.2 929.6L1400.2 929.8L1403.2 930.1L1406.2 930.3L1409.2 930.5L1412.2 930.7L1415.2 930.9L1418.2 931.1L1421.1 931.3L1424.1 931.5L1427.1 931.6L1430.1 931.8L1433.1 932.0L1436.1 932.1L1439.1 932.2L1442.0 932.4L1445.0 932.5L1448.0 932.6L1451.0 932.7"/>
<path d="M63.0 924.7L66.0 925.1L69.0 925.6L72.0 926.2L75.0 926.9L78.0 927.7L81.0 928.6L84.0 929.8L87.0 931.1L90.0 932.6L93.0 934.1L96.0 935.7L99.0 937.3L102.0 938.8L105.0 940.3L108.0 941.9L111.0 943.6L114.0 945.2L117.0 946.9L120.0 948.6L123.0 950.3L126.0 951.9L129.0 953.5L132.0 955.0L135.0 956.5L138.0 958.0L141.0 959.5L144.0 961.0L147.0 962.4L150.0 963.7L153.0 964.8L156.0 965.8L159.0 966.7L162.0 967.5L165.0 968.4L168.0 969.2L171.0 969.8L174.0 970.3L177.0 970.5L180.0 970.5L183.0 970.5L186.0 970.5L189.0 970.5L192.0 970.5L195.0 970.5L198.0 970.5L201.0 970.5L204.0 970.5L207.0 970.5L210.0 970.3L213.0 970.1L216.0 969.8L219.0 969.5L222.0 969.1L225.0 968.8L228.0 968.5L231.0 968.2L234.0 968.1L237.0 968.0L240.0 968.0L243.0 968.0L246.0 968.0L249.0 968.0L252.0 968.0L255.0 968.0L258.0 968.0L261.0 968.0L264.0 968.0L267.0 968.0L270.0 968.0L273.0 968.0L276.0 968.0L279.0 968.0L282.0 968.0L285.0 967.9L288.0 967.9L291.0 967.9L294.0 967.9L297.0 967.9L300.0 967.9L303.0 967.9L306.0 967.9L309.0 967.9L312.0 967.9L315.0 967.9L318.0 967.9L321.0 967.9L324.0 967.9L327.0 967.9L330.0 967.9L333.0 967.9L336.0 967.9L339.0 967.9L342.0 967.9L345.0 967.9L348.0 967.9L351.0 967.9L354.0 967.9L357.0 967.9L360.0 967.9L363.0 967.9L366.0 967.9L369.0 967.9L372.0 967.9L375.0 967.9L378.0 967.9L381.0 967.9L384.0 967.9L387.0 967.9L390.0 967.9L393.0 967.9L396.0 967.9L399.0 967.9L402.0 967.9L405.0 967.9L408.0 967.9L411.0 967.9L414.0 967.9L417.0 967.9L420.0 967.9L423.0 967.9L426.0 967.9L429.0 967.9L432.0 967.9L435.0 967.9L438.0 967.9L438.0 921.5L441.0 922.1L444.0 922.7L447.0 923.5L450.0 924.3L453.0 925.1L456.0 926.0L459.0 927.0L462.0 928.0L465.0 929.1L468.0 930.4L471.0 931.8L474.0 933.2L477.0 934.7L480.0 936.1L483.0 937.6L486.0 939.0L489.0 940.3L492.0 941.7L495.0 943.1L498.0 944.5L501.0 945.9L504.0 947.3L507.0 948.7L510.0 950.0L513.0 951.3L516.0 952.6L519.0 953.8L522.0 955.0L525.0 956.2L528.0 957.3L531.0 958.5L534.0 959.6L537.0 960.8L540.0 962.1L543.0 963.4L546.0 964.6L549.0 965.7L552.0 966.6L555.0 967.2L558.0 967.9L561.0 968.5L564.0 969.0L567.0 969.5L570.0 969.8L573.0 970.0L576.0 970.0L579.0 970.0L582.0 970.0L585.0 970.0L588.0 970.0L591.0 970.0L594.0 970.0L597.0 970.0L600.0 970.0L603.0 969.9L606.0 969.8L609.0 969.7L612.0 969.6L615.0 969.5L618.0 969.4L621.0 969.2L624.0 969.1L627.0 968.9L630.0 968.8L633.0 968.7L636.0 968.6L639.0 968.4L642.0 968.3L645.0 968.1L648.0 968.0L651.0 967.9L654.0 967.9L657.0 967.9L660.0 967.9L663.0 967.9L666.0 967.9L669.0 967.9L672.0 967.9L675.0 967.9L678.0 967.9L681.0 967.8L684.0 967.7L687.0 967.6L690.0 967.5L693.0 967.3L696.0 967.1L699.0 966.9L702.0 966.7L705.0 966.5L708.0 966.3L711.0 966.1L714.0 965.9L717.0 965.8L720.0 965.6L723.0 965.4L726.0 965.2L729.0 965.0L732.0 964.8L735.0 964.6L738.0 964.4L741.0 964.2L744.0 964.1L747.0 963.9L750.0 963.7L753.0 963.5L756.0 963.3L759.0 963.2L762.0 963.0L765.0 962.9L768.0 962.7L771.0 962.6L774.0 962.5L777.0 962.4L780.0 962.3L783.0 962.1L786.0 962.0L789.0 961.9L792.0 961.8L795.0 961.7L798.0 961.7L801.0 961.6L804.0 961.5L804.0 918.8L807.0 918.9L810.0 919.1L813.0 919.4L816.0 919.8L819.0 920.2L822.0 920.7L825.0 921.3L828.0 922.3L831.0 923.4L834.0 924.7L837.0 926.0L840.0 927.4L843.0 928.7L846.0 930.0L849.0 931.4L852.0 932.8L855.0 934.2L858.0 935.7L861.0 937.1L864.0 938.6L867.0 940.1L870.0 941.5L873.0 942.9L876.0 944.3L879.0 945.8L882.0 947.2L885.0 948.6L888.0 950.0L891.0 951.4L894.0 952.8L897.0 954.1L900.0 955.5L903.0 956.9L906.0 958.3L909.0 959.7L912.0 961.0L915.0 962.2L918.0 963.3L921.0 964.4L924.0 965.4L927.0 966.4L930.0 967.3L933.0 968.1L936.0 968.6L939.0 969.0L942.0 969.3L945.0 969.5L948.0 969.8L951.0 969.9L954.0 970.0L957.0 970.0L960.0 970.0L963.0 969.9L966.0 969.8L969.0 969.7L972.0 969.7L975.0 969.6L978.0 969.5L981.0 969.3L984.0 969.1L987.0 968.9L990.0 968.6L993.0 968.4L996.0 968.2L999.0 968.1L1002.0 968.0L1005.0 968.0L1008.0 968.0L1011.0 968.0L1014.0 968.0L1017.0 968.0L1020.0 968.0L1023.0 968.0L1026.0 968.0L1029.0 968.0L1032.0 968.0L1035.0 968.0L1038.0 968.0L1041.0 968.0L1044.0 968.0L1047.0 968.0L1050.0 968.0L1053.0 968.0L1056.0 968.0L1059.0 968.0L1062.0 968.0L1065.0 968.0L1068.0 968.0L1071.0 968.0L1074.0 968.0L1077.0 968.0L1080.0 968.0L1083.0 968.0L1086.0 968.0L1089.0 967.9L1092.0 967.9L1095.0 967.8L1098.0 967.7L1101.0 967.6L1104.0 967.4L1107.0 967.3L1110.0 967.1L1113.0 967.0L1116.0 966.8L1119.0 966.7L1122.0 966.5L1125.0 966.4L1128.0 966.2L1131.0 966.1L1134.0 965.9L1137.0 965.7L1140.0 965.5L1143.0 965.3L1146.0 965.1L1149.0 964.9L1152.0 964.7L1155.0 964.5L1158.0 964.3L1161.0 964.1L1164.0 963.9L1167.0 963.8L1170.0 963.6L1173.0 963.4L1176.0 963.2L1179.0 963.0L1182.0 962.8L1185.0 962.7L1188.0 962.5L1191.0 962.4L1194.0 962.2L1197.0 962.1L1200.0 962.0L1203.0 961.9L1206.0 961.8L1209.0 961.7L1212.0 961.6L1215.0 961.6L1218.0 961.5L1221.0 961.4L1224.0 961.4L1227.0 961.3L1230.0 961.3L1233.0 961.2L1236.0 961.2L1236.0 936.7L1239.0 936.9L1242.0 937.3L1245.0 937.7L1247.9 938.3L1250.9 938.9L1253.9 939.5L1256.9 940.3L1259.9 941.3L1262.9 942.5L1265.9 943.7L1268.8 945.1L1271.8 946.4L1274.8 947.8L1277.8 949.1L1280.8 950.3L1283.8 951.5L1286.8 952.7L1289.8 954.0L1292.7 955.2L1295.7 956.4L1298.7 957.6L1301.7 958.8L1304.7 960.0L1307.7 961.1L1310.7 962.2L1313.6 963.3L1316.6 964.4L1319.6 965.5L1322.6 966.5L1325.6 967.5L1328.6 968.4L1331.6 969.2L1334.5 969.8L1337.5 970.5L1340.5 971.2L1343.5 971.9L1346.5 972.5L1349.5 973.0L1352.5 973.5L1355.4 973.8L1358.4 974.0L1361.4 974.0L1364.4 973.9L1367.4 973.7L1370.4 973.5L1373.4 973.2L1376.3 972.9L1379.3 972.6L1382.3 972.4L1385.3 972.1L1388.3 971.7L1391.3 971.4L1394.3 971.0L1397.2 970.7L1400.2 970.3L1403.2 970.0L1406.2 969.7L1409.2 969.4L1412.2 969.2L1415.2 969.1L1418.2 968.9L1421.1 968.8L1424.1 968.6L1427.1 968.5L1430.1 968.4L1433.1 968.3L1436.1 968.2L1439.1 968.1L1442.0 968.0L1445.0 967.9L1448.0 967.9L1451.0 967.9"/>
<path d="M63.0 988.0L66.0 988.0L69.0 988.0L72.0 988.0L75.0 988.0L78.0 988.0L81.0 988.0L84.0 988.0L87.0 988.0L90.0 988.0L93.0 988.0L96.0 988.0L99.0 988.0L102.0 987.9L105.0 987.6L108.0 987.4L111.0 987.0L114.0 986.7L117.0 986.3L120.0 985.9L123.0 985.5L126.0 985.1L129.0 984.8L132.0 984.5L135.0 984.2L138.0 983.9L141.0 983.5L144.0 983.2L147.0 982.9L150.0 982.6L153.0 982.4L156.0 982.2L159.0 982.0L162.0 982.0L165.0 982.0L168.0 982.1L171.0 982.1L174.0 982.2L177.0 982.3L180.0 982.4L183.0 982.5L186.0 982.7L189.0 983.0L192.0 983.4L195.0 983.9L198.0 984.5L201.0 985.0L204.0 985.6L207.0 986.1L210.0 986.5L213.0 986.9L216.0 987.3L219.0 987.7L222.0 988.0L225.0 988.3L228.0 988.5L231.0 988.7L234.0 988.9L237.0 989.1L240.0 989.3L243.0 989.5L246.0 989.8L249.0 990.0L252.0 990.0L255.0 990.0L258.0 990.1L261.0 990.1L264.0 990.1L267.0 990.1L270.0 990.1L273.0 990.1L276.0 990.1L279.0 990.1L282.0 990.1L285.0 990.1L288.0 990.1L291.0 990.1L294.0 990.1L297.0 990.2L300.0 990.2L303.0 990.8L306.0 991.2L309.0 991.4L312.0 991.7L315.0 991.8L318.0 992.0L321.0 992.2L324.0 992.3L327.0 992.4L330.0 992.5L333.0 992.6L336.0 992.7L339.0 992.8L342.0 993.0L345.0 993.1L348.0 993.2L351.0 993.3L354.0 993.4L357.0 993.6L360.0 993.7L363.0 993.8L366.0 993.9L369.0 994.0L372.0 994.1L375.0 994.2L378.0 994.3L381.0 994.4L384.0 994.6L387.0 994.7L390.0 994.8L393.0 994.9L396.0 994.9L399.0 995.0L402.0 995.1L405.0 995.2L408.0 995.3L411.0 995.4L414.0 995.5L417.0 995.5L420.0 995.6L423.0 995.7L426.0 995.8L429.0 995.8L432.0 995.9L435.0 995.9L438.0 996.0L438.0 992.0L441.0 992.0L444.0 992.0L447.0 991.9L450.0 991.9L453.0 991.8L456.0 991.8L459.0 991.7L462.0 991.6L465.0 991.6L468.0 991.5L471.0 991.4L474.0 991.3L477.0 991.1L480.0 990.9L483.0 990.6L486.0 990.3L489.0 990.0L492.0 989.6L495.0 989.3L498.0 988.9L501.0 988.6L504.0 988.2L507.0 987.9L510.0 987.5L513.0 987.1L516.0 986.7L519.0 986.3L522.0 985.9L525.0 985.5L528.0 985.1L531.0 984.8L534.0 984.5L537.0 984.2L540.0 983.8L543.0 983.5L546.0 983.2L549.0 982.9L552.0 982.7L555.0 982.6L558.0 982.5L561.0 982.5L564.0 982.5L567.0 982.6L570.0 982.7L573.0 982.7L576.0 982.8L579.0 983.0L582.0 983.3L585.0 983.6L588.0 984.0L591.0 984.4L594.0 984.8L597.0 985.3L600.0 985.7L603.0 986.1L606.0 986.4L609.0 986.7L612.0 987.1L615.0 987.4L618.0 987.8L621.0 988.1L624.0 988.5L627.0 988.8L630.0 989.1L633.0 989.4L636.0 989.6L639.0 989.8L642.0 989.9L645.0 990.0L648.0 990.0L651.0 990.0L654.0 990.0L657.0 990.0L660.0 990.0L663.0 990.0L666.0 990.0L669.0 990.0L672.0 989.9L675.0 989.7L678.0 989.6L681.0 989.4L684.0 989.2L687.0 988.9L690.0 988.7L693.0 988.5L696.0 988.3L699.0 988.1L702.0 987.9L705.0 987.7L708.0 987.5L711.0 987.3L714.0 987.1L717.0 986.9L720.0 986.7L723.0 986.5L726.0 986.3L729.0 986.1L732.0 986.0L735.0 985.8L738.0 985.6L741.0 985.4L744.0 985.3L747.0 985.1L750.0 984.9L753.0 984.7L756.0 984.6L759.0 984.4L762.0 984.3L765.0 984.1L768.0 984.1L771.0 984.0L774.0 984.0L777.0 984.0L780.0 984.0L783.0 983.9L786.0 983.9L789.0 983.9L792.0 983.9L795.0 983.9L798.0 983.9L801.0 983.9L804.0 983.9L804.0 984.7L807.0 984.7L810.0 984.7L813.0 984.7L816.0 984.7L819.0 984.7L822.0 984.7L825.0 984.7L828.0 984.7L831.0 984.7L834.0 984.7L837.0 984.7L840.0 984.6L843.0 984.5L846.0 984.3L849.0 984.0L852.0 983.7L855.0 983.4L858.0 983.1L861.0 982.8L864.0 982.5L867.0 982.3L870.0 982.0L873.0 981.7L876.0 981.5L879.0 981.2L882.0 980.9L885.0 980.5L888.0 980.3L891.0 980.0L894.0 979.7L897.0 979.5L900.0 979.4L903.0 979.3L906.0 979.3L909.0 979.3L912.0 979.3L915.0 979.3L918.0 979.3L921.0 979.3L924.0 979.3L927.0 979.3L930.0 979.3L933.0 979.3L936.0 979.4L939.0 979.7L942.0 980.3L945.0 981.0L948.0 981.8L951.0 982.5L954.0 983.1L957.0 983.6L960.0 984.1L963.0 984.6L966.0 985.0L969.0 985.5L972.0 985.9L975.0 986.3L978.0 986.7L981.0 987.1L984.0 987.4L987.0 987.7L990.0 988.0L993.0 988.3L996.0 988.5L999.0 988.7L1002.0 988.9L1005.0 989.1L1008.0 989.3L1011.0 989.5L1014.0 989.7L1017.0 989.8L1020.0 990.0L1023.0 990.1L1026.0 990.2L1029.0 990.3L1032.0 990.4L1035.0 990.4L1038.0 990.5L1041.0 990.6L1044.0 990.7L1047.0 990.8L1050.0 991.0L1053.0 991.2L1056.0 991.4L1059.0 991.7L1062.0 991.9L1065.0 992.1L1068.0 992.4L1071.0 992.6L1074.0 992.8L1077.0 993.0L1080.0 993.2L1083.0 993.4L1086.0 993.6L1089.0 993.8L1092.0 994.0L1095.0 994.2L1098.0 994.4L1101.0 994.6L1104.0 994.8L1107.0 995.0L1110.0 995.2L1113.0 995.4L1116.0 995.6L1119.0 995.7L1122.0 995.9L1125.0 996.1L1128.0 996.2L1131.0 996.4L1134.0 996.5L1137.0 996.6L1140.0 996.7L1143.0 996.8L1146.0 996.9L1149.0 997.0L1152.0 997.0L1155.0 997.1L1158.0 997.2L1161.0 997.2L1164.0 997.3L1167.0 997.3L1170.0 997.4L1173.0 997.4L1176.0 997.5L1179.0 997.5L1182.0 997.6L1185.0 997.6L1188.0 997.6L1191.0 997.7L1194.0 997.7L1197.0 997.8L1200.0 997.8L1203.0 997.8L1206.0 997.9L1209.0 997.9L1212.0 997.9L1215.0 997.9L1218.0 997.9L1221.0 998.0L1224.0 998.0L1227.0 998.0L1230.0 998.0L1233.0 998.0L1236.0 998.0L1236.0 988.7L1239.0 988.7L1242.0 988.7L1245.0 988.7L1247.9 988.7L1250.9 988.7L1253.9 988.7L1256.9 988.7L1259.9 988.7L1262.9 988.7L1265.9 988.7L1268.8 988.7L1271.8 988.5L1274.8 988.3L1277.8 987.9L1280.8 987.6L1283.8 987.2L1286.8 986.8L1289.8 986.4L1292.7 986.0L1295.7 985.7L1298.7 985.4L1301.7 985.0L1304.7 984.7L1307.7 984.4L1310.7 984.1L1313.6 983.8L1316.6 983.5L1319.6 983.3L1322.6 983.1L1325.6 983.0L1328.6 982.8L1331.6 982.6L1334.5 982.5L1337.5 982.3L1340.5 982.2L1343.5 982.1L1346.5 982.1L1349.5 982.0L1352.5 982.0L1355.4 982.1L1358.4 982.3L1361.4 982.6L1364.4 982.9L1367.4 983.3L1370.4 983.6L1373.4 983.9L1376.3 984.3L1379.3 984.6L1382.3 985.0L1385.3 985.5L1388.3 985.9L1391.3 986.3L1394.3 986.7L1397.2 987.0L1400.2 987.3L1403.2 987.6L1406.2 987.9L1409.2 988.2L1412.2 988.5L1415.2 988.8L1418.2 989.0L1421.1 989.2L1424.1 989.4L1427.1 989.5L1430.1 989.6L1433.1 989.7L1436.1 989.8L1439.1 989.9L1442.0 989.9L1445.0 990.0L1448.0 990.0L1451.0 990.0"/>
</g>
<g fill="#000" shape-rendering="crispEdges">
<rect x="62" y="27" width="1390" height="2"/>
<rect x="62" y="992" width="1390" height="2"/>
<rect x="62" y="27" width="2" height="967"/>
<rect x="1450" y="27" width="2" height="967"/>
</g>
<text x="45.2" y="35" text-anchor="end">2</text>
<text x="45.2" y="173" text-anchor="end">1</text>
<text x="45.2" y="311" text-anchor="end">0</text>
<text x="46.9" y="449" text-anchor="end">-1</text>
<text x="46.9" y="586" text-anchor="end">-2</text>
<text x="46.9" y="724" text-anchor="end">-3</text>
<text x="46.9" y="862" text-anchor="end">-4</text>
<text x="46.9" y="1000" text-anchor="end">-5</text>
<text x="69" y="1028">X</text>
<text class="s" transform="translate(250.5 1028) scale(1.1 1)">Γ</text>
<text x="414.5" y="1028">Y</text>
<text x="446" y="1028">L</text>
<text class="s" transform="translate(646.1 1028) scale(1.1 1)">Γ</text>
<text x="780.5" y="1028">Z</text>
<text x="810" y="1028">N</text>
<text class="s" transform="translate(1012.5 1028) scale(1.1 1)">Γ</text>
<text x="1211.5" y="1028">M</text>
<text x="1242" y="1028">R</text>
<text class="s" transform="translate(1427.5 1028) scale(1.1 1)">Γ</text>
</svg>
</body>
</html>
